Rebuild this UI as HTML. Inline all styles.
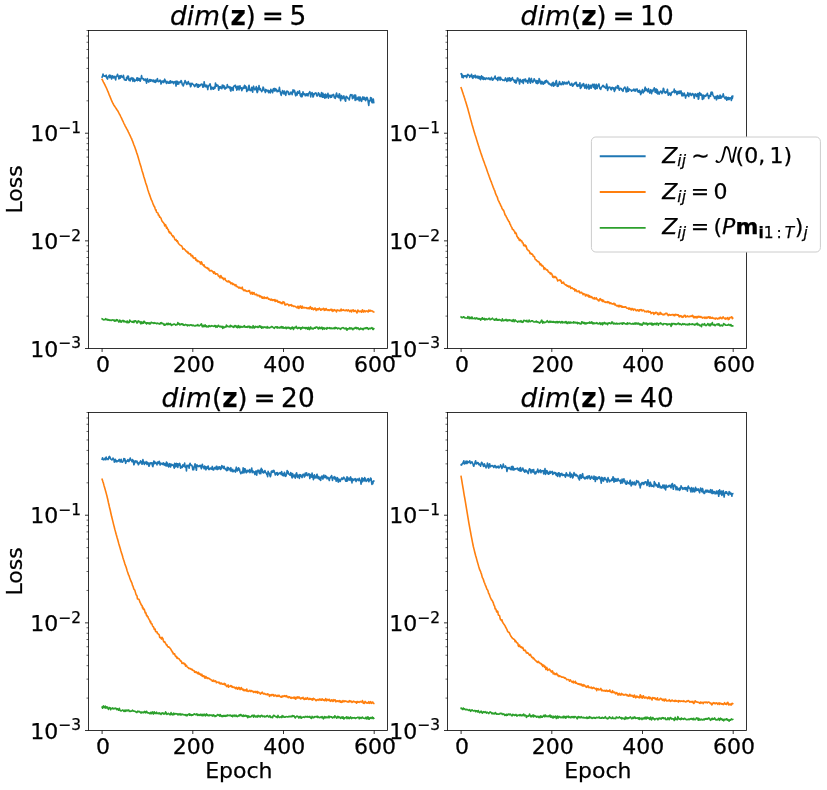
<!DOCTYPE html>
<html lang="en"><head><meta charset="utf-8"><title>Loss curves</title><style>html,body{margin:0;padding:0;background:#fff;overflow:hidden}svg{display:block}text{fill:#000;white-space:pre;stroke:#000;stroke-width:0.25px}</style></head><body>
<svg width="827" height="790" viewBox="0 0 827 790">
<rect x="0" y="0" width="827" height="790" fill="#ffffff"/>
<g id="axTL">
<path d="M102.1 77.19 L102.55 76.19 L103.01 74.05 L103.46 75.66 L103.91 75.95 L104.37 76.21 L104.82 75.74 L105.27 76.32 L105.73 75.77 L106.18 75.1 L106.63 77.71 L107.09 78.31 L107.54 79.07 L108 77.12 L108.45 76.25 L108.9 75.85 L109.36 75.08 L109.81 77.7 L110.26 75.6 L110.72 75.32 L111.17 76.88 L111.62 78.99 L112.08 77.55 L112.53 75.83 L112.98 76.27 L113.44 77.9 L113.89 77.09 L114.34 76.32 L114.8 77.11 L115.25 78.7 L115.7 79.87 L116.16 76.21 L116.61 76.38 L117.07 76.01 L117.52 74.26 L117.97 75.86 L118.43 76.46 L118.88 78.95 L119.33 77.53 L119.79 75.88 L120.24 78.31 L120.69 77.25 L121.15 75.56 L121.6 76.79 L122.05 77 L122.51 76.85 L122.96 77.55 L123.41 75.24 L123.87 77.61 L124.32 79.62 L124.77 79.75 L125.23 80.09 L125.68 80.26 L126.14 80.28 L126.59 77.44 L127.04 78.97 L127.5 76.17 L127.95 77.04 L128.4 76.21 L128.86 79.84 L129.31 80.53 L129.76 79.04 L130.22 80.84 L130.67 78.28 L131.12 78.9 L131.58 78.87 L132.03 77.64 L132.48 79.66 L132.94 81.35 L133.39 78.24 L133.84 79.98 L134.3 79.4 L134.75 81.47 L135.21 80.26 L135.66 80.29 L136.11 80.25 L136.57 79.46 L137.02 77.83 L137.47 80.62 L137.93 77.94 L138.38 79.6 L138.83 80.16 L139.29 78.58 L139.74 79.81 L140.19 81.14 L140.65 79.66 L141.1 77.94 L141.55 75.55 L142.01 77.8 L142.46 78.73 L142.91 78.85 L143.37 78.59 L143.82 80.1 L144.28 79.25 L144.73 79.87 L145.18 80.73 L145.64 79.02 L146.09 79.97 L146.54 83.09 L147 81.5 L147.45 78.68 L147.9 80.01 L148.36 81.27 L148.81 82.1 L149.26 80.71 L149.72 79.61 L150.17 79.52 L150.62 81.27 L151.08 80.98 L151.53 79.92 L151.99 80.18 L152.44 80.21 L152.89 81.43 L153.35 80.06 L153.8 81.45 L154.25 82.13 L154.71 81.5 L155.16 80.15 L155.61 82.41 L156.07 80.42 L156.52 81.29 L156.97 79.78 L157.43 78.66 L157.88 81.14 L158.33 81.58 L158.79 81.21 L159.24 81.47 L159.69 80.33 L160.15 80.17 L160.6 81.37 L161.06 84.08 L161.51 82.81 L161.96 81.06 L162.42 82.07 L162.87 80.94 L163.32 81.06 L163.78 82.59 L164.23 80.81 L164.68 79.18 L165.14 80.22 L165.59 81.75 L166.04 82.27 L166.5 83.42 L166.95 81.34 L167.4 82.88 L167.86 82.68 L168.31 82.08 L168.76 83.26 L169.22 82.77 L169.67 81.3 L170.12 83.21 L170.58 80.8 L171.03 82.1 L171.49 82.4 L171.94 82.77 L172.39 81.48 L172.85 82.2 L173.3 82.46 L173.75 83.66 L174.21 81.67 L174.66 82.46 L175.11 82.01 L175.57 81.38 L176.02 86.06 L176.47 82.88 L176.93 81.02 L177.38 84.21 L177.83 81.75 L178.29 83.36 L178.74 84.05 L179.19 82.17 L179.65 82.17 L180.1 82.19 L180.56 82.47 L181.01 80.62 L181.46 81.11 L181.92 82.97 L182.37 84.77 L182.82 84.72 L183.28 85.98 L183.73 84.57 L184.18 82.82 L184.64 82.75 L185.09 80.46 L185.54 81.56 L186 82.01 L186.45 83.89 L186.9 84.47 L187.36 82.91 L187.81 82.46 L188.26 81.46 L188.72 83.35 L189.17 84.24 L189.63 84.38 L190.08 83.33 L190.53 86.8 L190.99 86.04 L191.44 84.04 L191.89 83.25 L192.35 83.58 L192.8 84.29 L193.25 84.29 L193.71 85.06 L194.16 85.72 L194.61 86.61 L195.07 86.21 L195.52 84.55 L195.97 84.86 L196.43 83.88 L196.88 84 L197.33 86.99 L197.79 84.75 L198.24 87.24 L198.7 84.64 L199.15 85.21 L199.6 86.32 L200.06 85.12 L200.51 85.32 L200.96 84.5 L201.42 84.14 L201.87 84.46 L202.32 84.36 L202.78 87.14 L203.23 85.52 L203.68 86.92 L204.14 81.7 L204.59 84.74 L205.04 85.94 L205.5 85.18 L205.95 86.91 L206.41 86.4 L206.86 85.2 L207.31 86.56 L207.77 89.58 L208.22 86.5 L208.67 85.9 L209.13 85.03 L209.58 85.42 L210.03 83.79 L210.49 85.64 L210.94 89.4 L211.39 87.94 L211.85 87.17 L212.3 87.95 L212.75 88.92 L213.21 87.61 L213.66 89.27 L214.11 88 L214.57 86.87 L215.02 88.06 L215.47 82.98 L215.93 84.88 L216.38 86.25 L216.84 84.94 L217.29 85.71 L217.74 85.21 L218.2 85.85 L218.65 90.28 L219.1 87.9 L219.56 86.8 L220.01 88.33 L220.46 86.67 L220.92 87.88 L221.37 87.67 L221.82 88.77 L222.28 85.16 L222.73 87.56 L223.18 86.87 L223.64 85.4 L224.09 87.95 L224.55 86.21 L225 89.2 L225.45 88.22 L225.91 88.15 L226.36 87.51 L226.81 88.01 L227.27 84.63 L227.72 86.73 L228.17 86.37 L228.63 87.51 L229.08 87.41 L229.53 88.03 L229.99 86.68 L230.44 90.41 L230.89 91.18 L231.35 87.68 L231.8 87.52 L232.25 88.25 L232.71 89.93 L233.16 90.43 L233.62 86.19 L234.07 86.32 L234.52 85.82 L234.98 85.57 L235.43 85.26 L235.88 87.79 L236.34 86.62 L236.79 90.11 L237.24 89.43 L237.7 86.49 L238.15 86.19 L238.6 87.29 L239.06 89.89 L239.51 86.91 L239.96 85.82 L240.42 87.94 L240.87 88.7 L241.32 87.81 L241.78 90.69 L242.23 89.24 L242.69 89 L243.14 87.33 L243.59 88.26 L244.05 87.83 L244.5 85.28 L244.95 88.18 L245.41 86.09 L245.86 87.97 L246.31 87.03 L246.77 91.56 L247.22 89.98 L247.67 90.45 L248.13 90.2 L248.58 86.69 L249.03 85.24 L249.49 88.25 L249.94 90.38 L250.39 89.64 L250.85 90.57 L251.3 90.45 L251.75 87.29 L252.21 89.82 L252.66 92.21 L253.12 88.5 L253.57 86.18 L254.02 88.53 L254.48 88.83 L254.93 89.84 L255.38 88.33 L255.84 89.03 L256.29 86.52 L256.74 90.82 L257.2 92.59 L257.65 91.73 L258.1 87.88 L258.56 89.3 L259.01 85.51 L259.46 89.65 L259.92 89.69 L260.37 88.55 L260.82 90.36 L261.28 90.57 L261.73 91.59 L262.19 90.61 L262.64 90.13 L263.09 87.07 L263.55 87.96 L264 89.39 L264.45 90.69 L264.91 90.78 L265.36 92.51 L265.81 89.43 L266.27 90 L266.72 90.82 L267.17 90.4 L267.63 91.19 L268.08 90.23 L268.53 92.66 L268.99 90.83 L269.44 92.4 L269.89 91.37 L270.35 92.81 L270.8 89.22 L271.26 91.3 L271.71 90.48 L272.16 91.54 L272.62 92.67 L273.07 89.31 L273.52 88.61 L273.98 89.39 L274.43 90.93 L274.88 88.43 L275.34 90.7 L275.79 89.11 L276.24 89.22 L276.7 90.66 L277.15 91.8 L277.6 90.49 L278.06 90.61 L278.51 91.32 L278.97 90.55 L279.42 87.34 L279.87 90.41 L280.33 92 L280.78 93.95 L281.23 95.37 L281.69 93.36 L282.14 91.93 L282.59 90.46 L283.05 92.05 L283.5 93.52 L283.95 93.97 L284.41 91.05 L284.86 92.46 L285.31 93.91 L285.77 95.33 L286.22 92.93 L286.67 91.32 L287.13 91.02 L287.58 91.47 L288.03 91.48 L288.49 93.81 L288.94 94.5 L289.4 94.17 L289.85 94.47 L290.3 92.24 L290.76 93.02 L291.21 92.16 L291.66 92.96 L292.12 94.66 L292.57 92.58 L293.02 89.82 L293.48 91.85 L293.93 91.36 L294.38 90.21 L294.84 91.6 L295.29 94.73 L295.74 95.81 L296.2 92.96 L296.65 94.87 L297.11 94.99 L297.56 91.65 L298.01 92.9 L298.47 93.25 L298.92 93.21 L299.37 90.81 L299.83 92.73 L300.28 95.33 L300.73 96.17 L301.19 96.64 L301.64 93.91 L302.09 96.64 L302.55 94.82 L303 91.86 L303.45 94.52 L303.91 93.5 L304.36 94.51 L304.81 94.09 L305.27 95.83 L305.72 94.54 L306.18 93.8 L306.63 95.52 L307.08 94.57 L307.54 93.78 L307.99 95.95 L308.44 93.65 L308.9 92.95 L309.35 92.86 L309.8 91.66 L310.26 93.52 L310.71 96.97 L311.16 93.38 L311.62 93.95 L312.07 92.54 L312.52 93.62 L312.98 97.05 L313.43 96.24 L313.88 93.86 L314.34 94.32 L314.79 93.18 L315.25 93.06 L315.7 92.9 L316.15 93.23 L316.61 95.31 L317.06 96.05 L317.51 95.83 L317.97 94.49 L318.42 92.77 L318.87 94.39 L319.33 93.8 L319.78 96.47 L320.23 96.47 L320.69 96.47 L321.14 94.43 L321.59 92.5 L322.05 96.74 L322.5 97.23 L322.95 93.33 L323.41 95.6 L323.86 97.19 L324.31 94.5 L324.77 98.09 L325.22 95.2 L325.68 94.14 L326.13 97.72 L326.58 96.37 L327.04 94.98 L327.49 96.59 L327.94 93.31 L328.4 98.16 L328.85 95.1 L329.3 96.12 L329.76 95.52 L330.21 96.87 L330.66 97.43 L331.12 95.18 L331.57 97.16 L332.02 95.73 L332.48 94.98 L332.93 95.49 L333.38 94.41 L333.84 95.03 L334.29 97.71 L334.75 96.69 L335.2 98.41 L335.65 97.24 L336.11 94.49 L336.56 93.04 L337.01 95.09 L337.47 96.93 L337.92 96.58 L338.37 95.62 L338.83 97.81 L339.28 93.88 L339.73 94.38 L340.19 97.34 L340.64 100.7 L341.09 97.95 L341.55 95.6 L342 97.95 L342.46 98.6 L342.91 98.75 L343.36 96.53 L343.82 95.81 L344.27 97.35 L344.72 98.41 L345.18 100.61 L345.63 101.06 L346.08 96.58 L346.54 96.38 L346.99 97.19 L347.44 97.21 L347.9 98.43 L348.35 98.6 L348.8 98.53 L349.26 99.95 L349.71 97.53 L350.16 95.58 L350.62 94.67 L351.07 95.47 L351.52 95.4 L351.98 94.67 L352.43 98.64 L352.89 98.37 L353.34 97.15 L353.79 96.08 L354.25 95.01 L354.7 96.68 L355.15 100.5 L355.61 95.02 L356.06 98.14 L356.51 99.63 L356.97 98.68 L357.42 98.08 L357.87 99.36 L358.33 96.94 L358.78 99.52 L359.23 100.83 L359.69 96.98 L360.14 97.01 L360.6 98.93 L361.05 100.75 L361.5 101.43 L361.96 100.1 L362.41 97.58 L362.86 96.86 L363.32 99.13 L363.77 99.39 L364.22 97.23 L364.68 98.92 L365.13 99.9 L365.58 100.7 L366.04 97.86 L366.49 99.57 L366.94 97.26 L367.4 98.21 L367.85 99.44 L368.3 102.74 L368.76 105.46 L369.21 100.81 L369.66 100.61 L370.12 100.98 L370.57 97.66 L371.03 100.2 L371.48 98.1 L371.93 102.48 L372.39 102.69 L372.84 100.74 L373.29 98.94 L373.75 102.51" fill="none" stroke="#1f77b4" stroke-width="1.6" stroke-linejoin="round" stroke-linecap="square"/>
<path d="M102.1 79.43 L102.55 80.1 L103.01 81.14 L103.46 82.09 L103.91 82.92 L104.37 83.78 L104.82 84.61 L105.27 85.67 L105.73 86.58 L106.18 87.51 L106.63 88.44 L107.09 89.55 L107.54 90.6 L108 91.59 L108.45 92.74 L108.9 93.93 L109.36 95.1 L109.81 96.13 L110.26 97.24 L110.72 98.37 L111.17 99.55 L111.62 100.69 L112.08 101.73 L112.53 102.58 L112.98 103.49 L113.44 104.24 L113.89 105.19 L114.34 105.8 L114.8 106.52 L115.25 107.11 L115.7 107.8 L116.16 108.46 L116.61 109.34 L117.07 109.93 L117.52 110.56 L117.97 111.23 L118.43 112.05 L118.88 113 L119.33 113.94 L119.79 114.56 L120.24 115.49 L120.69 116.5 L121.15 117.4 L121.6 118.28 L122.05 119.39 L122.51 120.41 L122.96 121.17 L123.41 122.26 L123.87 123.28 L124.32 124.18 L124.77 124.98 L125.23 126.08 L125.68 126.82 L126.14 127.56 L126.59 128.55 L127.04 129.28 L127.5 130.29 L127.95 131.03 L128.4 132.07 L128.86 132.91 L129.31 133.98 L129.76 134.9 L130.22 135.82 L130.67 136.77 L131.12 137.83 L131.58 138.64 L132.03 139.87 L132.48 141 L132.94 142.15 L133.39 143.38 L133.84 144.8 L134.3 145.74 L134.75 147.01 L135.21 148.27 L135.66 149.67 L136.11 150.76 L136.57 152.42 L137.02 153.63 L137.47 154.9 L137.93 156.47 L138.38 158.06 L138.83 159.6 L139.29 161.11 L139.74 162.71 L140.19 164.18 L140.65 165.69 L141.1 167.08 L141.55 168.87 L142.01 170.5 L142.46 171.91 L142.91 173.31 L143.37 174.93 L143.82 176.73 L144.28 178.08 L144.73 179.54 L145.18 181.04 L145.64 182.7 L146.09 183.99 L146.54 185.32 L147 186.63 L147.45 188.34 L147.9 190.01 L148.36 191.17 L148.81 192.72 L149.26 193.89 L149.72 195.14 L150.17 196.41 L150.62 197.66 L151.08 199.2 L151.53 200.2 L151.99 200.96 L152.44 202.3 L152.89 203.4 L153.35 204.7 L153.8 205.68 L154.25 206.67 L154.71 206.93 L155.16 208.71 L155.61 210.07 L156.07 209.94 L156.52 212.05 L156.97 212.44 L157.43 212.78 L157.88 212.92 L158.33 215.02 L158.79 214.92 L159.24 215.86 L159.69 217.13 L160.15 217.02 L160.6 217.6 L161.06 218.31 L161.51 219.7 L161.96 220.93 L162.42 221.57 L162.87 222.18 L163.32 222.44 L163.78 223.28 L164.23 223.74 L164.68 225.89 L165.14 225.47 L165.59 224.7 L166.04 226 L166.5 228.18 L166.95 227.31 L167.4 228.38 L167.86 229.53 L168.31 229.53 L168.76 231.48 L169.22 232.49 L169.67 231.79 L170.12 233.24 L170.58 232.76 L171.03 233.25 L171.49 234.64 L171.94 235.28 L172.39 235.49 L172.85 236.69 L173.3 236 L173.75 236.72 L174.21 237.38 L174.66 239.08 L175.11 239.83 L175.57 240.1 L176.02 239.51 L176.47 240.79 L176.93 241.46 L177.38 240.77 L177.83 241.73 L178.29 243.25 L178.74 243.89 L179.19 244.13 L179.65 244.74 L180.1 245.1 L180.56 245.43 L181.01 245.65 L181.46 245.68 L181.92 246.46 L182.37 247.14 L182.82 249.12 L183.28 248.51 L183.73 248.57 L184.18 248.86 L184.64 249.35 L185.09 249.78 L185.54 250.67 L186 250.89 L186.45 251.66 L186.9 251.31 L187.36 252.3 L187.81 252.97 L188.26 252.27 L188.72 253.33 L189.17 253.87 L189.63 253.9 L190.08 254.02 L190.53 253.82 L190.99 255.8 L191.44 255.12 L191.89 255.3 L192.35 256.63 L192.8 255.88 L193.25 257.75 L193.71 258.08 L194.16 258.44 L194.61 258.24 L195.07 257.81 L195.52 257.97 L195.97 260.22 L196.43 259.67 L196.88 260.03 L197.33 261.51 L197.79 260.7 L198.24 261.09 L198.7 261.5 L199.15 261.83 L199.6 261.66 L200.06 262.4 L200.51 263.92 L200.96 263.75 L201.42 261.77 L201.87 262.62 L202.32 264.47 L202.78 264.72 L203.23 264.98 L203.68 265.92 L204.14 264.87 L204.59 266.73 L205.04 266.7 L205.5 267.17 L205.95 267.4 L206.41 267.97 L206.86 267.62 L207.31 267.78 L207.77 268.85 L208.22 268.77 L208.67 268.37 L209.13 270.19 L209.58 270.68 L210.03 270.99 L210.49 270.48 L210.94 270.76 L211.39 270.57 L211.85 270.53 L212.3 271.45 L212.75 271.84 L213.21 271.85 L213.66 273.33 L214.11 271.75 L214.57 272.24 L215.02 272.89 L215.47 274.29 L215.93 273.78 L216.38 273.83 L216.84 273.77 L217.29 274.03 L217.74 274.21 L218.2 275.88 L218.65 276.16 L219.1 276.49 L219.56 276.07 L220.01 277.88 L220.46 276.14 L220.92 275.57 L221.37 276.9 L221.82 277.68 L222.28 278.22 L222.73 277.58 L223.18 278.82 L223.64 279.71 L224.09 278.47 L224.55 278.47 L225 278.32 L225.45 279.79 L225.91 280.63 L226.36 280.9 L226.81 281.25 L227.27 281.76 L227.72 281.34 L228.17 281.82 L228.63 280.96 L229.08 281.23 L229.53 282.06 L229.99 281.87 L230.44 282.98 L230.89 283.78 L231.35 283.38 L231.8 282.81 L232.25 283.14 L232.71 284.52 L233.16 283.68 L233.62 284.24 L234.07 284.38 L234.52 284.88 L234.98 285.66 L235.43 284.88 L235.88 284.68 L236.34 286.53 L236.79 286.31 L237.24 286.67 L237.7 286.55 L238.15 287.27 L238.6 287.89 L239.06 288.07 L239.51 287.26 L239.96 287.35 L240.42 288.02 L240.87 288.23 L241.32 288.54 L241.78 287.83 L242.23 287.16 L242.69 289.02 L243.14 289.7 L243.59 289.95 L244.05 290.72 L244.5 290.4 L244.95 289.87 L245.41 290.73 L245.86 290.52 L246.31 291.38 L246.77 291.08 L247.22 291.3 L247.67 291.36 L248.13 291.28 L248.58 290.63 L249.03 291.44 L249.49 290.57 L249.94 292.35 L250.39 293.22 L250.85 293.98 L251.3 293.1 L251.75 292.35 L252.21 292.22 L252.66 294.25 L253.12 292.85 L253.57 293.88 L254.02 292.46 L254.48 293.84 L254.93 294.67 L255.38 294.66 L255.84 294.49 L256.29 294.12 L256.74 294.35 L257.2 295.68 L257.65 295.61 L258.1 295.38 L258.56 295.61 L259.01 295.28 L259.46 296.59 L259.92 296.9 L260.37 295.86 L260.82 296.47 L261.28 297.15 L261.73 296.57 L262.19 298.21 L262.64 298.11 L263.09 297.19 L263.55 298.03 L264 298.45 L264.45 296.98 L264.91 297.96 L265.36 297.78 L265.81 297.89 L266.27 298.49 L266.72 297.87 L267.17 297.3 L267.63 297.46 L268.08 298.55 L268.53 299.16 L268.99 298.93 L269.44 298.93 L269.89 299.25 L270.35 300.16 L270.8 299.81 L271.26 299.1 L271.71 299.55 L272.16 300.51 L272.62 299.67 L273.07 299.79 L273.52 300.08 L273.98 299.78 L274.43 300.78 L274.88 299.49 L275.34 301.47 L275.79 300.68 L276.24 300.27 L276.7 301.12 L277.15 300.36 L277.6 301.77 L278.06 302.15 L278.51 301.48 L278.97 301.75 L279.42 302.61 L279.87 301.91 L280.33 302.38 L280.78 302.91 L281.23 303.65 L281.69 302.65 L282.14 303.04 L282.59 303.57 L283.05 301.68 L283.5 302.76 L283.95 302.08 L284.41 302.46 L284.86 304.84 L285.31 304.34 L285.77 304.94 L286.22 304.16 L286.67 304.52 L287.13 304.09 L287.58 304.09 L288.03 304.51 L288.49 304.93 L288.94 305.8 L289.4 305 L289.85 305.25 L290.3 305.05 L290.76 305.21 L291.21 304.66 L291.66 306 L292.12 305.36 L292.57 305.64 L293.02 305.75 L293.48 306.54 L293.93 306.41 L294.38 306.15 L294.84 306.32 L295.29 306.57 L295.74 306.92 L296.2 306.96 L296.65 307.55 L297.11 307.83 L297.56 307.12 L298.01 306.17 L298.47 308.06 L298.92 308.45 L299.37 306.96 L299.83 306.61 L300.28 305.91 L300.73 307.46 L301.19 306.93 L301.64 308.23 L302.09 306.07 L302.55 307.41 L303 308 L303.45 307.41 L303.91 307.22 L304.36 307.84 L304.81 307.52 L305.27 307.66 L305.72 307.88 L306.18 307.67 L306.63 307.99 L307.08 308.61 L307.54 308.07 L307.99 308.28 L308.44 307.96 L308.9 308.78 L309.35 307.8 L309.8 308.69 L310.26 306.63 L310.71 307.58 L311.16 307.64 L311.62 309.21 L312.07 308.88 L312.52 307.92 L312.98 308.46 L313.43 309.66 L313.88 309.05 L314.34 309.15 L314.79 307.93 L315.25 307.97 L315.7 309.5 L316.15 310.56 L316.61 309.06 L317.06 309.4 L317.51 308.77 L317.97 309.89 L318.42 309.05 L318.87 308.8 L319.33 308.04 L319.78 308.93 L320.23 309.6 L320.69 310.2 L321.14 308.93 L321.59 309.96 L322.05 309.36 L322.5 309.23 L322.95 308.77 L323.41 308.31 L323.86 308.84 L324.31 310.45 L324.77 309.03 L325.22 309.41 L325.68 310.18 L326.13 308.55 L326.58 309.81 L327.04 309.53 L327.49 309.98 L327.94 310.4 L328.4 309.84 L328.85 309.83 L329.3 310.43 L329.76 310.35 L330.21 309.56 L330.66 309.68 L331.12 309.27 L331.57 310.62 L332.02 309.44 L332.48 310.26 L332.93 311.32 L333.38 310.79 L333.84 309.98 L334.29 309.63 L334.75 309.83 L335.2 310.79 L335.65 310.56 L336.11 310.56 L336.56 311.88 L337.01 310 L337.47 309.92 L337.92 310.1 L338.37 310.52 L338.83 310.6 L339.28 310.36 L339.73 310.94 L340.19 310.85 L340.64 310.11 L341.09 308.99 L341.55 310.7 L342 309.95 L342.46 310.03 L342.91 310.3 L343.36 309.7 L343.82 309.97 L344.27 310.54 L344.72 310.44 L345.18 310.72 L345.63 310.11 L346.08 310.33 L346.54 309.96 L346.99 310.44 L347.44 310.84 L347.9 310.46 L348.35 309.79 L348.8 310.52 L349.26 310.96 L349.71 311.53 L350.16 310.85 L350.62 310.45 L351.07 310.25 L351.52 311.92 L351.98 310.35 L352.43 310.07 L352.89 310.53 L353.34 309.85 L353.79 311.46 L354.25 311.21 L354.7 311.2 L355.15 310.35 L355.61 310.65 L356.06 311.58 L356.51 311.94 L356.97 313.02 L357.42 311.83 L357.87 309.96 L358.33 310.91 L358.78 310.96 L359.23 311.74 L359.69 311.2 L360.14 311.39 L360.6 311.03 L361.05 311.63 L361.5 312.08 L361.96 310.71 L362.41 309.72 L362.86 310.48 L363.32 312.1 L363.77 311.46 L364.22 310.95 L364.68 310.68 L365.13 311.83 L365.58 311.51 L366.04 311.15 L366.49 310.88 L366.94 311.08 L367.4 311.1 L367.85 311.73 L368.3 311.96 L368.76 310.03 L369.21 310.18 L369.66 311.11 L370.12 311.2 L370.57 310.27 L371.03 310.74 L371.48 310.96 L371.93 310.96 L372.39 310.98 L372.84 311.32 L373.29 311.96 L373.75 311.95" fill="none" stroke="#ff7f0e" stroke-width="1.6" stroke-linejoin="round" stroke-linecap="square"/>
<path d="M102.1 318.72 L102.55 318.92 L103.01 319.63 L103.46 319.51 L103.91 319.86 L104.37 319.64 L104.82 319.56 L105.27 319.64 L105.73 318.68 L106.18 319.32 L106.63 319.37 L107.09 320.09 L107.54 319.45 L108 319.84 L108.45 319.65 L108.9 320.19 L109.36 320.38 L109.81 319.93 L110.26 320.09 L110.72 320.26 L111.17 320.56 L111.62 320.04 L112.08 320.17 L112.53 319.92 L112.98 319.71 L113.44 320.4 L113.89 320.58 L114.34 320.13 L114.8 321.26 L115.25 320.28 L115.7 320.96 L116.16 320.74 L116.61 319.67 L117.07 320.38 L117.52 319.79 L117.97 320.62 L118.43 321.36 L118.88 322.06 L119.33 321.38 L119.79 320.07 L120.24 320.76 L120.69 321.87 L121.15 321.44 L121.6 322.07 L122.05 320.8 L122.51 320.65 L122.96 320.32 L123.41 321 L123.87 321.89 L124.32 320.95 L124.77 321.79 L125.23 321.79 L125.68 321.9 L126.14 321.37 L126.59 321.66 L127.04 322.67 L127.5 321.07 L127.95 322.06 L128.4 322.62 L128.86 322.2 L129.31 322.44 L129.76 320.09 L130.22 321.2 L130.67 321.03 L131.12 321.45 L131.58 321.78 L132.03 322.07 L132.48 321.52 L132.94 322.23 L133.39 321.2 L133.84 322.39 L134.3 321.8 L134.75 320.83 L135.21 320.72 L135.66 320.8 L136.11 321.4 L136.57 322.26 L137.02 323.04 L137.47 322.67 L137.93 321.32 L138.38 320.77 L138.83 321.79 L139.29 321.44 L139.74 322.06 L140.19 322.18 L140.65 323.7 L141.1 321.67 L141.55 322.65 L142.01 323.56 L142.46 322.36 L142.91 322.18 L143.37 323.29 L143.82 321.33 L144.28 321.3 L144.73 321.8 L145.18 322.85 L145.64 323.17 L146.09 322.9 L146.54 324 L147 322.84 L147.45 322.75 L147.9 322.75 L148.36 323.55 L148.81 322.96 L149.26 322.82 L149.72 324.01 L150.17 323.96 L150.62 323.59 L151.08 322.27 L151.53 322.28 L151.99 322.81 L152.44 322.89 L152.89 322.83 L153.35 323.04 L153.8 323.46 L154.25 322.69 L154.71 323.26 L155.16 323.01 L155.61 322.95 L156.07 323.17 L156.52 323.78 L156.97 323.53 L157.43 322.99 L157.88 323.56 L158.33 323.6 L158.79 323.72 L159.24 323.48 L159.69 324.14 L160.15 323.78 L160.6 322.84 L161.06 322.64 L161.51 322.74 L161.96 323.73 L162.42 323.3 L162.87 323.46 L163.32 323.79 L163.78 324.69 L164.23 325.2 L164.68 324.14 L165.14 325.08 L165.59 324.5 L166.04 324.65 L166.5 323.77 L166.95 323.25 L167.4 324.28 L167.86 324.68 L168.31 323.23 L168.76 323.91 L169.22 324.27 L169.67 324.39 L170.12 323.51 L170.58 323.83 L171.03 324.85 L171.49 325.37 L171.94 324.55 L172.39 324.87 L172.85 324.52 L173.3 324.55 L173.75 324.13 L174.21 324.15 L174.66 324.04 L175.11 324.52 L175.57 325.12 L176.02 324.73 L176.47 324.83 L176.93 324.26 L177.38 324.62 L177.83 322.64 L178.29 323.43 L178.74 324.12 L179.19 323.58 L179.65 324.84 L180.1 324.77 L180.56 324.19 L181.01 324.56 L181.46 323.78 L181.92 324.07 L182.37 324.34 L182.82 323.93 L183.28 325.26 L183.73 324.66 L184.18 325.42 L184.64 324.94 L185.09 325.02 L185.54 324.42 L186 324.68 L186.45 324.75 L186.9 325.25 L187.36 325.83 L187.81 324.85 L188.26 324.98 L188.72 325.39 L189.17 325.67 L189.63 325.14 L190.08 324.9 L190.53 324.83 L190.99 325.2 L191.44 325.33 L191.89 324.86 L192.35 325.12 L192.8 325.73 L193.25 325.34 L193.71 325.08 L194.16 325.81 L194.61 325.93 L195.07 325.9 L195.52 325.85 L195.97 325.3 L196.43 325.59 L196.88 325.71 L197.33 325.46 L197.79 324.52 L198.24 325.42 L198.7 325.83 L199.15 325.89 L199.6 325.49 L200.06 325.47 L200.51 324.47 L200.96 324.38 L201.42 323.8 L201.87 325.46 L202.32 326.82 L202.78 326.82 L203.23 325.32 L203.68 326.18 L204.14 326.57 L204.59 325.58 L205.04 324.78 L205.5 326.49 L205.95 325.75 L206.41 325.78 L206.86 326.92 L207.31 326.43 L207.77 326.62 L208.22 326.96 L208.67 325.94 L209.13 325.48 L209.58 326.39 L210.03 326.17 L210.49 326.52 L210.94 326.3 L211.39 325.67 L211.85 326.02 L212.3 325.9 L212.75 325.96 L213.21 326.13 L213.66 326.38 L214.11 326.22 L214.57 325.52 L215.02 326.34 L215.47 325.63 L215.93 327.34 L216.38 325.99 L216.84 326.28 L217.29 327.04 L217.74 326.18 L218.2 325.41 L218.65 325.39 L219.1 326.4 L219.56 326.68 L220.01 326.9 L220.46 326.55 L220.92 326.16 L221.37 326.75 L221.82 327.21 L222.28 326.38 L222.73 328.41 L223.18 326.61 L223.64 327.31 L224.09 327.75 L224.55 327.19 L225 326.8 L225.45 327.06 L225.91 327.11 L226.36 325.11 L226.81 326.52 L227.27 326.27 L227.72 326.1 L228.17 326.57 L228.63 326.72 L229.08 326.82 L229.53 326.37 L229.99 327.01 L230.44 325.38 L230.89 325.74 L231.35 325.81 L231.8 326.52 L232.25 326.38 L232.71 326.82 L233.16 326.33 L233.62 327.39 L234.07 327.15 L234.52 326.27 L234.98 325.52 L235.43 325.69 L235.88 325.78 L236.34 327.35 L236.79 327.14 L237.24 326.2 L237.7 327.69 L238.15 326.52 L238.6 325.48 L239.06 327.3 L239.51 327.62 L239.96 326.8 L240.42 326.35 L240.87 327.38 L241.32 326.6 L241.78 326.79 L242.23 327.11 L242.69 327 L243.14 326.49 L243.59 326.25 L244.05 327 L244.5 325.65 L244.95 326.88 L245.41 327.1 L245.86 327.18 L246.31 326.73 L246.77 327.06 L247.22 327.3 L247.67 326.37 L248.13 326.89 L248.58 327.04 L249.03 326.14 L249.49 326.41 L249.94 327.89 L250.39 327.64 L250.85 326.69 L251.3 327.37 L251.75 327.41 L252.21 327.95 L252.66 327.58 L253.12 325.66 L253.57 326.75 L254.02 327.95 L254.48 328.06 L254.93 326.71 L255.38 326.29 L255.84 327.04 L256.29 326.71 L256.74 326.9 L257.2 326.46 L257.65 327.49 L258.1 327.54 L258.56 327.33 L259.01 326.36 L259.46 325.92 L259.92 326.27 L260.37 327.16 L260.82 326.19 L261.28 327.54 L261.73 328.21 L262.19 326.94 L262.64 327.1 L263.09 327.83 L263.55 327.77 L264 326.91 L264.45 327.07 L264.91 327.26 L265.36 327.14 L265.81 327.59 L266.27 327.61 L266.72 327.9 L267.17 326.48 L267.63 327.89 L268.08 327.86 L268.53 327.32 L268.99 327.62 L269.44 327.95 L269.89 327.56 L270.35 327.24 L270.8 327.42 L271.26 326.85 L271.71 326.45 L272.16 326.67 L272.62 326.86 L273.07 327.5 L273.52 327.9 L273.98 327.75 L274.43 328.28 L274.88 327.44 L275.34 326.98 L275.79 326.88 L276.24 326.83 L276.7 327.33 L277.15 328.12 L277.6 326.79 L278.06 327.69 L278.51 327.62 L278.97 327.97 L279.42 327.39 L279.87 327.88 L280.33 327.38 L280.78 327.72 L281.23 326.53 L281.69 327.77 L282.14 327.94 L282.59 326.82 L283.05 327.88 L283.5 327.13 L283.95 328.13 L284.41 327.81 L284.86 328.11 L285.31 327.86 L285.77 327.16 L286.22 328.62 L286.67 328.48 L287.13 327.29 L287.58 328.03 L288.03 328.02 L288.49 327.32 L288.94 327.22 L289.4 328.42 L289.85 327.76 L290.3 328.48 L290.76 329.06 L291.21 328.21 L291.66 327.46 L292.12 328.24 L292.57 327.07 L293.02 327.48 L293.48 329.46 L293.93 327.72 L294.38 327.95 L294.84 327.32 L295.29 327.78 L295.74 327.81 L296.2 326.36 L296.65 327.4 L297.11 328.38 L297.56 328.58 L298.01 328.18 L298.47 327.51 L298.92 328.11 L299.37 327.69 L299.83 327.53 L300.28 328.16 L300.73 329.3 L301.19 327.81 L301.64 328.61 L302.09 328.18 L302.55 327.15 L303 327.4 L303.45 327.87 L303.91 327.83 L304.36 328.13 L304.81 327.47 L305.27 327.53 L305.72 328.63 L306.18 328.13 L306.63 327.65 L307.08 328.24 L307.54 329.19 L307.99 327.86 L308.44 327.33 L308.9 328.78 L309.35 329.54 L309.8 328.99 L310.26 327.36 L310.71 326.99 L311.16 328.76 L311.62 328.27 L312.07 328.49 L312.52 328.31 L312.98 329.21 L313.43 328.4 L313.88 328.08 L314.34 328.2 L314.79 327.58 L315.25 328.24 L315.7 328.04 L316.15 326.92 L316.61 327.3 L317.06 327.3 L317.51 327.28 L317.97 328.45 L318.42 329.01 L318.87 328.45 L319.33 327.3 L319.78 327.19 L320.23 328.58 L320.69 328.19 L321.14 328.11 L321.59 327.37 L322.05 327.21 L322.5 329.4 L322.95 328.15 L323.41 328.07 L323.86 327.79 L324.31 329.11 L324.77 328.26 L325.22 328.23 L325.68 328.37 L326.13 328.48 L326.58 329.04 L327.04 327.48 L327.49 328.53 L327.94 328.04 L328.4 328.04 L328.85 328.03 L329.3 328.48 L329.76 327.64 L330.21 328.02 L330.66 328.64 L331.12 328.09 L331.57 328.12 L332.02 328.61 L332.48 328.48 L332.93 328.25 L333.38 328.36 L333.84 328 L334.29 328.78 L334.75 327.75 L335.2 327.46 L335.65 328.46 L336.11 327.65 L336.56 327.77 L337.01 328.33 L337.47 328.83 L337.92 328.23 L338.37 328.15 L338.83 328.23 L339.28 328.63 L339.73 328.25 L340.19 328.72 L340.64 329.3 L341.09 328.46 L341.55 328.19 L342 327.87 L342.46 327.88 L342.91 327.63 L343.36 327.72 L343.82 328.12 L344.27 328.73 L344.72 328.82 L345.18 328.36 L345.63 328.58 L346.08 328 L346.54 329.87 L346.99 330.18 L347.44 328.76 L347.9 328.87 L348.35 328.75 L348.8 328.99 L349.26 328.15 L349.71 327.71 L350.16 328.84 L350.62 328.06 L351.07 328.63 L351.52 328.03 L351.98 328.16 L352.43 329.26 L352.89 329.64 L353.34 328.64 L353.79 328.39 L354.25 328.72 L354.7 328.19 L355.15 327.57 L355.61 328.28 L356.06 327.37 L356.51 328.66 L356.97 328.41 L357.42 328.59 L357.87 327.75 L358.33 328.14 L358.78 329.05 L359.23 329.59 L359.69 329.32 L360.14 328.88 L360.6 328.11 L361.05 328.93 L361.5 328.78 L361.96 328.63 L362.41 329.36 L362.86 328.51 L363.32 329.6 L363.77 328.41 L364.22 328.24 L364.68 328.47 L365.13 327.88 L365.58 328.32 L366.04 328.57 L366.49 327.65 L366.94 327.96 L367.4 327.79 L367.85 328.44 L368.3 329.31 L368.76 328.55 L369.21 328.6 L369.66 328.74 L370.12 328.12 L370.57 328.72 L371.03 328.39 L371.48 328.16 L371.93 327.62 L372.39 328.31 L372.84 329.4 L373.29 329.51 L373.75 328.68" fill="none" stroke="#2ca02c" stroke-width="1.6" stroke-linejoin="round" stroke-linecap="square"/>
<path d="M102.1 348.5v3.5M192.8 348.5v3.5M283.5 348.5v3.5M374.2 348.5v3.5M88.5 348.5h-3.5M88.5 240.86h-3.5M88.5 133.22h-3.5" stroke="#000" stroke-width="0.8" fill="none"/>
<path d="M88.5 316.1h-2M88.5 297.14h-2M88.5 283.69h-2M88.5 273.26h-2M88.5 264.74h-2M88.5 257.53h-2M88.5 251.29h-2M88.5 245.79h-2M88.5 208.46h-2M88.5 189.5h-2M88.5 176.05h-2M88.5 165.62h-2M88.5 157.1h-2M88.5 149.89h-2M88.5 143.65h-2M88.5 138.15h-2M88.5 100.82h-2M88.5 81.86h-2M88.5 68.41h-2M88.5 57.98h-2M88.5 49.46h-2M88.5 42.25h-2M88.5 36.01h-2M88.5 30.51h-2" stroke="#000" stroke-width="0.6" fill="none"/>
<rect x="88.5" y="30.5" width="299" height="318" fill="none" stroke="#000" stroke-width="0.8"/>
<text x="102.95" y="371.6" text-anchor="middle" style="font-size:22.0px;font-family:'DejaVu Sans','Liberation Sans',sans-serif">0</text>
<text x="193.65" y="371.6" text-anchor="middle" style="font-size:22.0px;font-family:'DejaVu Sans','Liberation Sans',sans-serif">200</text>
<text x="284.35" y="371.6" text-anchor="middle" style="font-size:22.0px;font-family:'DejaVu Sans','Liberation Sans',sans-serif">400</text>
<text x="375.05" y="371.6" text-anchor="middle" style="font-size:22.0px;font-family:'DejaVu Sans','Liberation Sans',sans-serif">600</text>
<text style="font-family:'DejaVu Sans','Liberation Sans',sans-serif"><tspan x="30.2" y="356.71" style="font-size:22.0px">10</tspan><tspan x="58.4" y="348.29" style="font-size:15.4px">−</tspan><tspan x="71.31" y="348.29" style="font-size:15.4px">3</tspan></text>
<text style="font-family:'DejaVu Sans','Liberation Sans',sans-serif"><tspan x="30.2" y="249.07" style="font-size:22.0px">10</tspan><tspan x="58.4" y="240.65" style="font-size:15.4px">−</tspan><tspan x="71.31" y="240.65" style="font-size:15.4px">2</tspan></text>
<text style="font-family:'DejaVu Sans','Liberation Sans',sans-serif"><tspan x="30.2" y="141.43" style="font-size:22.0px">10</tspan><tspan x="58.4" y="133.01" style="font-size:15.4px">−</tspan><tspan x="71.31" y="133.01" style="font-size:15.4px">1</tspan></text>
<text style="font-size:26.4px;font-family:'DejaVu Sans','Liberation Sans',sans-serif"><tspan x="169.91" y="25.1" style="font-style:oblique">d</tspan><tspan x="186.77" y="25.1" style="font-style:oblique">i</tspan><tspan x="194.31" y="25.1" style="font-style:oblique">m</tspan><tspan x="220.23" y="25.1" style="">(</tspan><tspan x="230.52" y="25.1" style="font-weight:700">z</tspan><tspan x="245.59" y="25.1" style="">)</tspan><tspan x="261.84" y="25.1" style="">=</tspan><tspan x="289.41" y="25.1" style="">5</tspan></text>
<text x="21.9" y="189.5" text-anchor="middle" transform="rotate(-90 21.9 189.5)" style="font-size:22.0px;font-family:'DejaVu Sans','Liberation Sans',sans-serif">Loss</text>
</g>
<g id="axTR">
<path d="M461.1 73.92 L461.55 73.61 L462.01 77.34 L462.46 74.93 L462.91 76.2 L463.37 77.76 L463.82 75.7 L464.27 75.73 L464.73 76.23 L465.18 75.69 L465.64 76.26 L466.09 75.96 L466.54 77.59 L467 76.8 L467.45 74.62 L467.9 74.29 L468.36 75.16 L468.81 75.35 L469.26 75.54 L469.72 77.33 L470.17 75.67 L470.62 75.85 L471.08 76.28 L471.53 74.23 L471.98 76.92 L472.44 77.75 L472.89 78.4 L473.34 75.7 L473.8 76.07 L474.25 76.94 L474.71 76.17 L475.16 75.19 L475.61 77.76 L476.07 76.87 L476.52 77.21 L476.97 75.96 L477.43 78.04 L477.88 76.75 L478.33 76.36 L478.79 78.29 L479.24 78.63 L479.69 76.51 L480.15 78.72 L480.6 79.66 L481.05 77.78 L481.51 75.82 L481.96 78.14 L482.41 78.79 L482.87 76.78 L483.32 79.49 L483.78 77.68 L484.23 77.69 L484.68 79.12 L485.14 78.46 L485.59 79.41 L486.04 78.12 L486.5 78.36 L486.95 78.04 L487.4 78.35 L487.86 78.85 L488.31 78.68 L488.76 77.93 L489.22 79.2 L489.67 78.42 L490.12 79.8 L490.58 79.2 L491.03 78.09 L491.48 77.31 L491.94 78.48 L492.39 80.17 L492.85 79.07 L493.3 79.68 L493.75 78.46 L494.21 77.93 L494.66 77.18 L495.11 75.97 L495.57 78.63 L496.02 78.72 L496.47 78.75 L496.93 79.51 L497.38 77.94 L497.83 80.49 L498.29 77.28 L498.74 78.65 L499.19 77.32 L499.65 78.55 L500.1 80.11 L500.55 77.3 L501.01 78.98 L501.46 79.26 L501.92 79.39 L502.37 79.65 L502.82 80.35 L503.28 80.07 L503.73 79.99 L504.18 80.64 L504.64 80.32 L505.09 79.06 L505.54 77.9 L506 80.14 L506.45 79.47 L506.9 81.46 L507.36 78.87 L507.81 78.08 L508.26 80.69 L508.72 78.57 L509.17 77.78 L509.62 80.67 L510.08 78.31 L510.53 81.03 L510.99 78.89 L511.44 80.23 L511.89 79.89 L512.35 77.55 L512.8 79.48 L513.25 79.45 L513.71 80.21 L514.16 81.1 L514.61 82.24 L515.07 80.11 L515.52 80.41 L515.97 83.19 L516.43 81.78 L516.88 81.13 L517.33 78.15 L517.79 78.07 L518.24 79.33 L518.69 80.16 L519.15 81.62 L519.6 83.99 L520.06 79.32 L520.51 79.89 L520.96 81.41 L521.42 81.35 L521.87 82.17 L522.32 80.37 L522.78 79.9 L523.23 83.49 L523.68 81.59 L524.14 79.26 L524.59 80.17 L525.04 80.47 L525.5 79.09 L525.95 81.76 L526.4 81.31 L526.86 80.46 L527.31 80.47 L527.76 83.2 L528.22 81.23 L528.67 79.71 L529.12 78.08 L529.58 79.54 L530.03 82.32 L530.49 83.25 L530.94 79.67 L531.39 78.39 L531.85 81.05 L532.3 81.58 L532.75 82.52 L533.21 80.77 L533.66 81.19 L534.11 78.85 L534.57 79.47 L535.02 80.59 L535.47 81.11 L535.93 82.64 L536.38 83.28 L536.83 80.48 L537.29 83.72 L537.74 81.13 L538.2 81.44 L538.65 82.94 L539.1 78.66 L539.56 79.4 L540.01 80.67 L540.46 82.29 L540.92 83.89 L541.37 83.75 L541.82 81.37 L542.28 83.04 L542.73 82.2 L543.18 84.26 L543.64 82.54 L544.09 83.62 L544.54 81.43 L545 83.08 L545.45 80.84 L545.9 82.11 L546.36 80.37 L546.81 81.96 L547.26 81.37 L547.72 81.27 L548.17 83.07 L548.63 83.98 L549.08 83.24 L549.53 83.49 L549.99 84.25 L550.44 85.02 L550.89 84.76 L551.35 84.23 L551.8 85.84 L552.25 82.99 L552.71 83.92 L553.16 82.26 L553.61 86.27 L554.07 83.45 L554.52 83.75 L554.97 85.26 L555.43 83.21 L555.88 81.79 L556.34 80.61 L556.79 83.13 L557.24 86.36 L557.7 84.58 L558.15 86.22 L558.6 85.05 L559.06 82.89 L559.51 81.56 L559.96 83.28 L560.42 84.54 L560.87 83.65 L561.32 84.14 L561.78 84.63 L562.23 83.19 L562.68 81.72 L563.14 83.3 L563.59 84.55 L564.04 82.75 L564.5 82.16 L564.95 82.39 L565.4 83.54 L565.86 83.91 L566.31 83.8 L566.77 82.4 L567.22 83.88 L567.67 83.19 L568.13 82.44 L568.58 81.27 L569.03 82.27 L569.49 83.33 L569.94 84.61 L570.39 85.1 L570.85 84.7 L571.3 84.65 L571.75 83.2 L572.21 85.7 L572.66 86.15 L573.11 85.75 L573.57 84.16 L574.02 84.45 L574.48 83.85 L574.93 82.79 L575.38 83.79 L575.84 82.25 L576.29 82.21 L576.74 85.55 L577.2 86.14 L577.65 86.31 L578.1 84.68 L578.56 85.22 L579.01 85.89 L579.46 84.37 L579.92 82.74 L580.37 88.38 L580.82 87.91 L581.28 87.5 L581.73 85.67 L582.18 84.36 L582.64 85.53 L583.09 85.71 L583.55 83.58 L584 84.79 L584.45 86.73 L584.91 88.18 L585.36 86.9 L585.81 85.08 L586.27 84.35 L586.72 88.6 L587.17 86.73 L587.63 87.13 L588.08 85.94 L588.53 84.59 L588.99 89.12 L589.44 87.85 L589.89 87.93 L590.35 85.32 L590.8 86.33 L591.25 88.2 L591.71 85.94 L592.16 84.98 L592.62 84.29 L593.07 84.37 L593.52 87.37 L593.98 86.2 L594.43 84.21 L594.88 88.7 L595.34 89.08 L595.79 88.22 L596.24 84.24 L596.7 86.75 L597.15 88.46 L597.6 85.38 L598.06 85.37 L598.51 85.89 L598.96 83.92 L599.42 87.03 L599.87 88.64 L600.32 88.55 L600.78 89.43 L601.23 87.55 L601.69 87.06 L602.14 86.72 L602.59 85.88 L603.05 85.32 L603.5 85.91 L603.95 86.9 L604.41 86.55 L604.86 87.43 L605.31 87.7 L605.77 88.31 L606.22 86.4 L606.67 84.11 L607.13 86.09 L607.58 90.41 L608.03 89.1 L608.49 87.19 L608.94 87.29 L609.39 87.47 L609.85 87.1 L610.3 88.16 L610.75 89.2 L611.21 89.8 L611.66 87.6 L612.12 87.38 L612.57 87.45 L613.02 88.25 L613.48 89.51 L613.93 87.72 L614.38 91.43 L614.84 89.78 L615.29 89.82 L615.74 87.07 L616.2 87.42 L616.65 87.48 L617.1 87.87 L617.56 85.46 L618.01 88.36 L618.46 86.15 L618.92 88.95 L619.37 90.19 L619.83 88.72 L620.28 88.35 L620.73 88.35 L621.19 88.43 L621.64 89.34 L622.09 90.41 L622.55 90.4 L623 91.37 L623.45 89.33 L623.91 88.15 L624.36 87.95 L624.81 87.02 L625.27 88.14 L625.72 88.61 L626.17 91.94 L626.63 90.9 L627.08 91.74 L627.53 86.93 L627.99 89.66 L628.44 91.16 L628.89 90.11 L629.35 88.93 L629.8 89.74 L630.26 89.83 L630.71 89.93 L631.16 90.34 L631.62 91.29 L632.07 90.4 L632.52 90.31 L632.98 90.05 L633.43 90.43 L633.88 89.08 L634.34 90.63 L634.79 89.86 L635.24 91.16 L635.7 89.39 L636.15 89.89 L636.6 89.67 L637.06 88.87 L637.51 91.73 L637.97 91.13 L638.42 90.77 L638.87 92.21 L639.33 90.19 L639.78 90.6 L640.23 92.75 L640.69 94.57 L641.14 91.64 L641.59 93.16 L642.05 91.1 L642.5 89.6 L642.95 91.6 L643.41 92.83 L643.86 91.49 L644.31 91.34 L644.77 88.76 L645.22 87.17 L645.67 90.42 L646.13 88.73 L646.58 90.32 L647.04 89.93 L647.49 91.22 L647.94 91.93 L648.4 88.51 L648.85 90.31 L649.3 91.04 L649.76 93.09 L650.21 91.27 L650.66 89.68 L651.12 90.43 L651.57 93.61 L652.02 90.23 L652.48 91.15 L652.93 91.41 L653.38 89.36 L653.84 89.31 L654.29 87.86 L654.74 89.67 L655.2 92.3 L655.65 91.52 L656.11 88.93 L656.56 93.04 L657.01 89.62 L657.47 90.19 L657.92 94.07 L658.37 92.79 L658.83 92.08 L659.28 94.09 L659.73 92.13 L660.19 92.25 L660.64 91.05 L661.09 91.58 L661.55 92.08 L662 93.57 L662.45 91.26 L662.91 91.09 L663.36 88.21 L663.81 89.08 L664.27 92.77 L664.72 91.67 L665.18 91.74 L665.63 93.07 L666.08 91.95 L666.54 92.35 L666.99 91.47 L667.44 89.28 L667.9 93.28 L668.35 95.26 L668.8 94.75 L669.26 92.98 L669.71 93.09 L670.16 93.64 L670.62 95.41 L671.07 94.85 L671.52 92.4 L671.98 92.39 L672.43 92.27 L672.88 91.67 L673.34 91.66 L673.79 91.91 L674.25 89.08 L674.7 92.8 L675.15 91.99 L675.61 90.85 L676.06 92.21 L676.51 92.05 L676.97 94.52 L677.42 91.61 L677.87 93.03 L678.33 93.51 L678.78 91.63 L679.23 91.13 L679.69 93.46 L680.14 92.51 L680.59 91.37 L681.05 90.97 L681.5 94.39 L681.95 95.87 L682.41 93.12 L682.86 94.5 L683.32 95.68 L683.77 95.33 L684.22 93.07 L684.68 94.56 L685.13 95.57 L685.58 98.07 L686.04 95.04 L686.49 95.81 L686.94 95.65 L687.4 94.98 L687.85 92.67 L688.3 94.67 L688.76 96.51 L689.21 94 L689.66 94.32 L690.12 93.13 L690.57 94.64 L691.02 95.14 L691.48 95.49 L691.93 93.86 L692.38 93.56 L692.84 93.56 L693.29 94.88 L693.75 95.47 L694.2 98.11 L694.65 94.35 L695.11 95.51 L695.56 93.91 L696.01 94.14 L696.47 96.52 L696.92 95.9 L697.37 95.51 L697.83 93.52 L698.28 99.28 L698.73 98.77 L699.19 94.06 L699.64 92.57 L700.09 93.68 L700.55 95.12 L701 93.8 L701.46 95.27 L701.91 94.92 L702.36 99.5 L702.82 95.5 L703.27 95.05 L703.72 98.59 L704.18 96.45 L704.63 95.55 L705.08 95.57 L705.54 96.33 L705.99 95.04 L706.44 95.56 L706.9 94.46 L707.35 93.29 L707.8 94.91 L708.26 96.33 L708.71 98.46 L709.16 96.49 L709.62 95.39 L710.07 96.16 L710.53 96.38 L710.98 92.36 L711.43 94.25 L711.89 92.02 L712.34 92.54 L712.79 94.46 L713.25 95.77 L713.7 96.26 L714.15 96.76 L714.61 98.54 L715.06 97.45 L715.51 97 L715.97 96.43 L716.42 99.82 L716.87 98.91 L717.33 95.73 L717.78 95.64 L718.23 97.95 L718.69 98.36 L719.14 96.66 L719.6 98.16 L720.05 95.03 L720.5 96.47 L720.96 98.3 L721.41 96.2 L721.86 96.99 L722.32 96.88 L722.77 96.08 L723.22 93.79 L723.68 96.1 L724.13 97.35 L724.58 97.69 L725.04 98.7 L725.49 98.85 L725.94 96.84 L726.4 97.26 L726.85 100.27 L727.3 99.25 L727.76 97.62 L728.21 97.37 L728.66 99.46 L729.12 99.54 L729.57 97.81 L730.03 98.36 L730.48 97.82 L730.93 98.1 L731.39 100.5 L731.84 96.3 L732.29 98.49 L732.75 96.1" fill="none" stroke="#1f77b4" stroke-width="1.6" stroke-linejoin="round" stroke-linecap="square"/>
<path d="M461.1 87.68 L461.55 88.96 L462.01 90.26 L462.46 91.63 L462.91 93.08 L463.37 94.5 L463.82 95.74 L464.27 97.23 L464.73 98.52 L465.18 100.2 L465.64 101.46 L466.09 102.9 L466.54 104.46 L467 105.98 L467.45 107.51 L467.9 109.01 L468.36 110.87 L468.81 112.54 L469.26 114.11 L469.72 115.74 L470.17 117.57 L470.62 119.32 L471.08 120.75 L471.53 122.44 L471.98 124.18 L472.44 125.71 L472.89 127.31 L473.34 128.89 L473.8 130.5 L474.25 132.03 L474.71 133.55 L475.16 135.01 L475.61 136.32 L476.07 137.64 L476.52 139.33 L476.97 140.84 L477.43 142.27 L477.88 143.63 L478.33 145.24 L478.79 146.4 L479.24 147.99 L479.69 149.42 L480.15 150.85 L480.6 152.27 L481.05 153.55 L481.51 154.86 L481.96 156.15 L482.41 157.55 L482.87 158.83 L483.32 160.12 L483.78 161.2 L484.23 162.41 L484.68 163.81 L485.14 165.1 L485.59 166.19 L486.04 167.49 L486.5 168.84 L486.95 170.18 L487.4 171.47 L487.86 172.78 L488.31 173.95 L488.76 175.26 L489.22 176.59 L489.67 177.75 L490.12 179.2 L490.58 180.22 L491.03 181.43 L491.48 182.4 L491.94 183.83 L492.39 185.01 L492.85 186.2 L493.3 187.53 L493.75 188.47 L494.21 189.82 L494.66 190.52 L495.11 192.02 L495.57 193.68 L496.02 194.56 L496.47 195.69 L496.93 196.31 L497.38 197.3 L497.83 199.25 L498.29 200.32 L498.74 201.24 L499.19 202 L499.65 203.33 L500.1 203.82 L500.55 205.17 L501.01 206.1 L501.46 206.52 L501.92 208.33 L502.37 208.89 L502.82 209.9 L503.28 209.76 L503.73 210.7 L504.18 212.1 L504.64 213.62 L505.09 214.91 L505.54 215.41 L506 216.05 L506.45 217.25 L506.9 217.8 L507.36 218.89 L507.81 219.88 L508.26 220.24 L508.72 221.54 L509.17 221.44 L509.62 222.68 L510.08 224.41 L510.53 224.71 L510.99 226.11 L511.44 226.86 L511.89 227.55 L512.35 229.28 L512.8 229.49 L513.25 229.51 L513.71 230.26 L514.16 231.25 L514.61 231.27 L515.07 233.34 L515.52 233.36 L515.97 232.97 L516.43 234.14 L516.88 236.23 L517.33 236.53 L517.79 238.05 L518.24 237.56 L518.69 238.38 L519.15 239.96 L519.6 240.52 L520.06 239.39 L520.51 240.64 L520.96 240.25 L521.42 240.9 L521.87 240.96 L522.32 242.71 L522.78 242.54 L523.23 243.36 L523.68 245.54 L524.14 245.63 L524.59 245.31 L525.04 244.97 L525.5 246.46 L525.95 245.74 L526.4 247.07 L526.86 248.76 L527.31 249.51 L527.76 249.74 L528.22 250.61 L528.67 250.76 L529.12 250.74 L529.58 251.87 L530.03 253.41 L530.49 253.06 L530.94 253.7 L531.39 254.26 L531.85 253.67 L532.3 254.22 L532.75 254.65 L533.21 256.28 L533.66 256.48 L534.11 256.4 L534.57 257.03 L535.02 258.8 L535.47 259.54 L535.93 259.77 L536.38 260.05 L536.83 260.77 L537.29 261.03 L537.74 261.62 L538.2 261.59 L538.65 261.63 L539.1 262.3 L539.56 263.54 L540.01 264.73 L540.46 263.7 L540.92 263.9 L541.37 265.45 L541.82 265.91 L542.28 265.44 L542.73 265.8 L543.18 266.3 L543.64 267.55 L544.09 269.39 L544.54 267.79 L545 268.42 L545.45 268.49 L545.9 269.25 L546.36 269.88 L546.81 270.12 L547.26 269.73 L547.72 270.22 L548.17 271.77 L548.63 271.96 L549.08 272.31 L549.53 272.84 L549.99 272.66 L550.44 273.98 L550.89 273.31 L551.35 273.38 L551.8 273.91 L552.25 275.12 L552.71 277.09 L553.16 276.16 L553.61 276.58 L554.07 277.59 L554.52 276.81 L554.97 276.44 L555.43 277.22 L555.88 277.7 L556.34 277.42 L556.79 278.54 L557.24 279.42 L557.7 280.89 L558.15 280.56 L558.6 280.3 L559.06 280.13 L559.51 280.15 L559.96 279.92 L560.42 280.96 L560.87 280.29 L561.32 281.87 L561.78 283.29 L562.23 282.55 L562.68 283.02 L563.14 282.48 L563.59 282.21 L564.04 283.67 L564.5 283.89 L564.95 284.52 L565.4 284.69 L565.86 285.12 L566.31 284.85 L566.77 285.68 L567.22 286.19 L567.67 285.55 L568.13 285.92 L568.58 287 L569.03 286.97 L569.49 286.61 L569.94 286.09 L570.39 287.16 L570.85 288.45 L571.3 287.68 L571.75 287.84 L572.21 287.74 L572.66 288.42 L573.11 288.83 L573.57 289.17 L574.02 288.81 L574.48 288.97 L574.93 290.97 L575.38 290.21 L575.84 289.69 L576.29 290.32 L576.74 291.07 L577.2 291.66 L577.65 291.4 L578.1 291.24 L578.56 291.75 L579.01 290.91 L579.46 291.43 L579.92 292.95 L580.37 292.7 L580.82 292.6 L581.28 292.38 L581.73 292.34 L582.18 293.36 L582.64 293.73 L583.09 294.72 L583.55 293.56 L584 294.02 L584.45 294.03 L584.91 294.11 L585.36 295.9 L585.81 295.95 L586.27 295.2 L586.72 294.48 L587.17 295.6 L587.63 295.96 L588.08 295.39 L588.53 295.17 L588.99 297.08 L589.44 295.84 L589.89 297.09 L590.35 296.43 L590.8 296.75 L591.25 297.62 L591.71 296.67 L592.16 297.17 L592.62 297.7 L593.07 298.65 L593.52 298.74 L593.98 298.23 L594.43 297.69 L594.88 299.08 L595.34 298.54 L595.79 298.78 L596.24 297.83 L596.7 298.9 L597.15 299.56 L597.6 299.33 L598.06 300.06 L598.51 300.76 L598.96 300.95 L599.42 299.7 L599.87 298.95 L600.32 298.62 L600.78 299.88 L601.23 299.61 L601.69 300.69 L602.14 299.72 L602.59 301.5 L603.05 301.14 L603.5 300.32 L603.95 301.5 L604.41 301.99 L604.86 302.09 L605.31 301.92 L605.77 302.38 L606.22 302.43 L606.67 302.05 L607.13 302.23 L607.58 301.72 L608.03 302.82 L608.49 301.96 L608.94 302.49 L609.39 302.3 L609.85 303.58 L610.3 303.3 L610.75 302.73 L611.21 303.5 L611.66 303.53 L612.12 304.1 L612.57 303.9 L613.02 303.89 L613.48 303.76 L613.93 303.18 L614.38 304.51 L614.84 304.84 L615.29 304.05 L615.74 305 L616.2 305.65 L616.65 305.71 L617.1 306.01 L617.56 305.81 L618.01 305.32 L618.46 306.74 L618.92 305.73 L619.37 305.45 L619.83 306.59 L620.28 305.7 L620.73 306.44 L621.19 305.86 L621.64 307.06 L622.09 307.28 L622.55 306.42 L623 307.03 L623.45 307.26 L623.91 306.95 L624.36 307.3 L624.81 307.04 L625.27 306.73 L625.72 306.7 L626.17 307.61 L626.63 308.03 L627.08 308.32 L627.53 308.27 L627.99 308.39 L628.44 308.07 L628.89 309.15 L629.35 308.02 L629.8 308.8 L630.26 308.47 L630.71 308.64 L631.16 310.05 L631.62 309.28 L632.07 308.35 L632.52 309.17 L632.98 309.12 L633.43 310.34 L633.88 309.07 L634.34 309.41 L634.79 309.21 L635.24 309.34 L635.7 310.27 L636.15 310.75 L636.6 310.82 L637.06 310.03 L637.51 309.81 L637.97 310.46 L638.42 310.25 L638.87 311.18 L639.33 309.78 L639.78 310.57 L640.23 309.79 L640.69 309.8 L641.14 309.55 L641.59 309.91 L642.05 311.02 L642.5 310.46 L642.95 310.18 L643.41 310.14 L643.86 310.42 L644.31 310.94 L644.77 311.78 L645.22 311.43 L645.67 311.37 L646.13 311.46 L646.58 311.88 L647.04 311.12 L647.49 311.68 L647.94 310.98 L648.4 311.1 L648.85 312.16 L649.3 312 L649.76 311.79 L650.21 311.48 L650.66 312.51 L651.12 313.63 L651.57 312.86 L652.02 312.72 L652.48 312.49 L652.93 313.14 L653.38 312.66 L653.84 314.4 L654.29 313.09 L654.74 312.89 L655.2 313.44 L655.65 312.21 L656.11 312.31 L656.56 312.44 L657.01 312.99 L657.47 314.07 L657.92 312.97 L658.37 314.75 L658.83 314.25 L659.28 314.43 L659.73 313.54 L660.19 312.43 L660.64 312.76 L661.09 314.26 L661.55 313.6 L662 313.92 L662.45 314.12 L662.91 314.89 L663.36 314.86 L663.81 314.29 L664.27 314.2 L664.72 314.6 L665.18 313.5 L665.63 313.54 L666.08 313.28 L666.54 313.47 L666.99 313.42 L667.44 314.78 L667.9 314.56 L668.35 315.59 L668.8 314.59 L669.26 314.75 L669.71 314.5 L670.16 315.23 L670.62 315.22 L671.07 314.75 L671.52 315.02 L671.98 314.48 L672.43 314.51 L672.88 314.47 L673.34 315.48 L673.79 314.56 L674.25 314.53 L674.7 315.73 L675.15 315.19 L675.61 314.37 L676.06 314.5 L676.51 314.83 L676.97 314.69 L677.42 315.21 L677.87 314.66 L678.33 314.77 L678.78 316.12 L679.23 316.88 L679.69 316.63 L680.14 315.65 L680.59 316.04 L681.05 315.9 L681.5 316.97 L681.95 316.29 L682.41 316.44 L682.86 317.31 L683.32 316.97 L683.77 316.15 L684.22 315.44 L684.68 315.68 L685.13 315.42 L685.58 317.09 L686.04 316.35 L686.49 316.71 L686.94 316.43 L687.4 315.93 L687.85 316.52 L688.3 316.66 L688.76 316.44 L689.21 316.48 L689.66 316.62 L690.12 315.97 L690.57 316.36 L691.02 316.23 L691.48 316.12 L691.93 316.47 L692.38 315.22 L692.84 315.64 L693.29 316.62 L693.75 317.74 L694.2 317.21 L694.65 316.54 L695.11 317.68 L695.56 317.03 L696.01 316.48 L696.47 316.92 L696.92 317.94 L697.37 317.54 L697.83 316.54 L698.28 316.36 L698.73 317.21 L699.19 316.37 L699.64 316.76 L700.09 317.42 L700.55 316.5 L701 316.61 L701.46 317.24 L701.91 317.2 L702.36 318.04 L702.82 317.47 L703.27 317.75 L703.72 317.76 L704.18 317.15 L704.63 317.98 L705.08 318.3 L705.54 317.42 L705.99 317.1 L706.44 317.43 L706.9 318.38 L707.35 317.64 L707.8 317.18 L708.26 316.81 L708.71 317.39 L709.16 316.94 L709.62 318.08 L710.07 317.21 L710.53 316.99 L710.98 318.3 L711.43 318.15 L711.89 318.07 L712.34 317.41 L712.79 318.3 L713.25 318.19 L713.7 318.15 L714.15 318.62 L714.61 318.71 L715.06 318.21 L715.51 319.04 L715.97 318.52 L716.42 318.13 L716.87 318.5 L717.33 318.47 L717.78 319.13 L718.23 318.45 L718.69 318.11 L719.14 318.26 L719.6 318.57 L720.05 317.22 L720.5 317.27 L720.96 318.02 L721.41 318.59 L721.86 318.69 L722.32 318.03 L722.77 317.13 L723.22 316.86 L723.68 317.98 L724.13 318.08 L724.58 318.58 L725.04 318.91 L725.49 318.05 L725.94 319.11 L726.4 318.25 L726.85 318.28 L727.3 318.34 L727.76 317.51 L728.21 319.7 L728.66 318.59 L729.12 319.07 L729.57 318.02 L730.03 317.35 L730.48 317.59 L730.93 317.53 L731.39 316.99 L731.84 316.84 L732.29 318.66 L732.75 318.16" fill="none" stroke="#ff7f0e" stroke-width="1.6" stroke-linejoin="round" stroke-linecap="square"/>
<path d="M461.1 316.95 L461.55 317.23 L462.01 317.83 L462.46 317.58 L462.91 317.37 L463.37 316.73 L463.82 316.82 L464.27 317.72 L464.73 317.45 L465.18 318.05 L465.64 318.06 L466.09 317.93 L466.54 318.06 L467 317.94 L467.45 318.21 L467.9 316.58 L468.36 317.21 L468.81 318.08 L469.26 318.68 L469.72 317.04 L470.17 317.52 L470.62 318.27 L471.08 318.73 L471.53 317.71 L471.98 316.9 L472.44 318.2 L472.89 318.66 L473.34 318.55 L473.8 318.56 L474.25 318.58 L474.71 317.97 L475.16 318.67 L475.61 318.89 L476.07 318.4 L476.52 317.9 L476.97 318.11 L477.43 318.79 L477.88 318.33 L478.33 319.26 L478.79 318.82 L479.24 318.59 L479.69 319.13 L480.15 318.95 L480.6 320.08 L481.05 319.7 L481.51 318.48 L481.96 318.4 L482.41 317.77 L482.87 319.22 L483.32 319.26 L483.78 318.99 L484.23 318.33 L484.68 319.89 L485.14 319.86 L485.59 318.89 L486.04 318.68 L486.5 318.88 L486.95 319.62 L487.4 319.46 L487.86 319.18 L488.31 318.99 L488.76 318.44 L489.22 318.71 L489.67 318.4 L490.12 319.78 L490.58 319.45 L491.03 319.38 L491.48 319.12 L491.94 318.7 L492.39 318.17 L492.85 318.82 L493.3 319.15 L493.75 319.36 L494.21 320.14 L494.66 320.14 L495.11 319.09 L495.57 319.18 L496.02 320.02 L496.47 318.55 L496.93 319.5 L497.38 320.24 L497.83 319.94 L498.29 319.68 L498.74 320.18 L499.19 319.57 L499.65 319.45 L500.1 320.03 L500.55 320.01 L501.01 320.46 L501.46 320.9 L501.92 320.77 L502.37 318.89 L502.82 320.18 L503.28 320.6 L503.73 320.71 L504.18 320.09 L504.64 320.08 L505.09 320.4 L505.54 319.75 L506 319.37 L506.45 320.68 L506.9 320.73 L507.36 319.88 L507.81 320.87 L508.26 320.08 L508.72 320.51 L509.17 319.8 L509.62 320.35 L510.08 320.08 L510.53 320.24 L510.99 320.79 L511.44 320.91 L511.89 320.27 L512.35 321.36 L512.8 320.18 L513.25 319.69 L513.71 320.57 L514.16 321.76 L514.61 320.53 L515.07 319.9 L515.52 320.32 L515.97 321.01 L516.43 321.24 L516.88 321.27 L517.33 321.72 L517.79 322.19 L518.24 321.23 L518.69 321.24 L519.15 321.09 L519.6 321.36 L520.06 321.82 L520.51 321.31 L520.96 320.64 L521.42 321.69 L521.87 322.12 L522.32 321.59 L522.78 322.39 L523.23 321.85 L523.68 320.43 L524.14 320.75 L524.59 320.52 L525.04 320.8 L525.5 320.76 L525.95 321.4 L526.4 321.53 L526.86 320.32 L527.31 321.62 L527.76 321.45 L528.22 321.92 L528.67 321.13 L529.12 320.08 L529.58 321.2 L530.03 321.69 L530.49 321.72 L530.94 321.38 L531.39 320.8 L531.85 320.82 L532.3 320.89 L532.75 320.88 L533.21 321.53 L533.66 321.87 L534.11 322.12 L534.57 321.88 L535.02 321.64 L535.47 321.98 L535.93 321.62 L536.38 321.17 L536.83 322.12 L537.29 321.75 L537.74 321.78 L538.2 322.48 L538.65 322.23 L539.1 322.37 L539.56 323.08 L540.01 322.72 L540.46 322.43 L540.92 321.8 L541.37 320.49 L541.82 320.19 L542.28 321.31 L542.73 323.12 L543.18 321.96 L543.64 321.67 L544.09 322.29 L544.54 322.66 L545 322.31 L545.45 322.35 L545.9 322.19 L546.36 321.75 L546.81 321.44 L547.26 320.64 L547.72 321.78 L548.17 322.01 L548.63 322.27 L549.08 322.5 L549.53 321.24 L549.99 321.31 L550.44 322.22 L550.89 321.21 L551.35 322.05 L551.8 322.15 L552.25 322.3 L552.71 321.7 L553.16 322.26 L553.61 321.54 L554.07 322.47 L554.52 322.15 L554.97 321.91 L555.43 322.32 L555.88 322.81 L556.34 321.65 L556.79 321.87 L557.24 321.53 L557.7 322.7 L558.15 322.62 L558.6 321.74 L559.06 321.91 L559.51 321.57 L559.96 322.25 L560.42 322.79 L560.87 322.03 L561.32 322.09 L561.78 321.48 L562.23 323.02 L562.68 321.78 L563.14 322.25 L563.59 322.22 L564.04 322.9 L564.5 322.27 L564.95 321.99 L565.4 321.67 L565.86 322.81 L566.31 321.63 L566.77 323.26 L567.22 323.45 L567.67 323.52 L568.13 322.02 L568.58 321.99 L569.03 322.62 L569.49 323.06 L569.94 322.12 L570.39 323.04 L570.85 322.05 L571.3 322.87 L571.75 322.68 L572.21 322.7 L572.66 322.64 L573.11 322.85 L573.57 321.76 L574.02 323.02 L574.48 322.39 L574.93 322.41 L575.38 322.24 L575.84 323.02 L576.29 322.93 L576.74 322.43 L577.2 322.29 L577.65 323.67 L578.1 322.8 L578.56 323.01 L579.01 322.72 L579.46 323.46 L579.92 323.74 L580.37 323.65 L580.82 323.98 L581.28 323.75 L581.73 321.71 L582.18 322.19 L582.64 322.16 L583.09 323.16 L583.55 323 L584 322.37 L584.45 323.74 L584.91 323.29 L585.36 323.82 L585.81 322.79 L586.27 323.49 L586.72 323.73 L587.17 322.91 L587.63 323.14 L588.08 322.98 L588.53 322.81 L588.99 323 L589.44 322 L589.89 323.27 L590.35 323.04 L590.8 322.39 L591.25 323.17 L591.71 321.88 L592.16 322.33 L592.62 323.69 L593.07 323.42 L593.52 322.87 L593.98 323.82 L594.43 323.02 L594.88 322.97 L595.34 323.17 L595.79 323.55 L596.24 323.4 L596.7 322.6 L597.15 322.87 L597.6 323.55 L598.06 323.88 L598.51 323.49 L598.96 323.78 L599.42 323.67 L599.87 322.67 L600.32 323.18 L600.78 324.39 L601.23 323.32 L601.69 323.52 L602.14 322.82 L602.59 324.82 L603.05 323.14 L603.5 323.63 L603.95 323.49 L604.41 322.42 L604.86 323.14 L605.31 323.86 L605.77 323.11 L606.22 323.77 L606.67 323.33 L607.13 324.2 L607.58 324.65 L608.03 322.95 L608.49 323.39 L608.94 322.9 L609.39 322.75 L609.85 323.31 L610.3 323.53 L610.75 323.69 L611.21 323.47 L611.66 322.12 L612.12 322.74 L612.57 322.17 L613.02 323.47 L613.48 323.94 L613.93 323.61 L614.38 323.18 L614.84 323.67 L615.29 323.97 L615.74 323.78 L616.2 323.15 L616.65 323.31 L617.1 324.16 L617.56 323.59 L618.01 323.58 L618.46 323.57 L618.92 323.88 L619.37 323.83 L619.83 323.34 L620.28 323.26 L620.73 323.33 L621.19 323.63 L621.64 323.75 L622.09 322.91 L622.55 324.21 L623 323.08 L623.45 323.42 L623.91 322.89 L624.36 323.16 L624.81 323.52 L625.27 323.89 L625.72 323.83 L626.17 324.05 L626.63 323.62 L627.08 324.34 L627.53 322.85 L627.99 323.64 L628.44 323.78 L628.89 323.39 L629.35 323.49 L629.8 323.18 L630.26 323.76 L630.71 323.51 L631.16 324.08 L631.62 323.97 L632.07 323.94 L632.52 323.7 L632.98 323.26 L633.43 324.09 L633.88 324.19 L634.34 323.49 L634.79 323.01 L635.24 323.34 L635.7 324.13 L636.15 322.91 L636.6 323.77 L637.06 323.64 L637.51 324.02 L637.97 323.03 L638.42 323.81 L638.87 323.26 L639.33 324.13 L639.78 324.77 L640.23 323.96 L640.69 324.85 L641.14 324.05 L641.59 324.42 L642.05 325.27 L642.5 324.63 L642.95 324 L643.41 322.49 L643.86 323.22 L644.31 323.93 L644.77 323.37 L645.22 323.28 L645.67 323.93 L646.13 323 L646.58 323.16 L647.04 324.34 L647.49 325.02 L647.94 323.63 L648.4 323.93 L648.85 324.16 L649.3 323.5 L649.76 323.4 L650.21 323.98 L650.66 323.27 L651.12 323.55 L651.57 324.76 L652.02 323.16 L652.48 325 L652.93 324.87 L653.38 323.83 L653.84 324.58 L654.29 324.1 L654.74 323.41 L655.2 323.51 L655.65 323.65 L656.11 324.71 L656.56 323.33 L657.01 323.12 L657.47 323.6 L657.92 323.77 L658.37 325.13 L658.83 323.83 L659.28 323.48 L659.73 323.43 L660.19 323.31 L660.64 322.79 L661.09 323.8 L661.55 323.56 L662 323.87 L662.45 324.76 L662.91 324.78 L663.36 324.49 L663.81 323.55 L664.27 323.85 L664.72 323.7 L665.18 323.8 L665.63 323.89 L666.08 323.81 L666.54 324.54 L666.99 323.85 L667.44 324.83 L667.9 324.43 L668.35 324.1 L668.8 324.32 L669.26 323.92 L669.71 323.98 L670.16 324.64 L670.62 324.42 L671.07 326.45 L671.52 323.7 L671.98 323.38 L672.43 324.73 L672.88 323.92 L673.34 323.65 L673.79 323.47 L674.25 323.86 L674.7 323.75 L675.15 324.46 L675.61 323.86 L676.06 324.15 L676.51 324.55 L676.97 324.31 L677.42 323.82 L677.87 323.41 L678.33 323.1 L678.78 323.22 L679.23 324.42 L679.69 323.89 L680.14 323.92 L680.59 324.3 L681.05 324.5 L681.5 324.88 L681.95 324.55 L682.41 324.03 L682.86 323.58 L683.32 324.39 L683.77 324.23 L684.22 324.16 L684.68 323.79 L685.13 324.44 L685.58 324.78 L686.04 324.33 L686.49 324.68 L686.94 324.37 L687.4 324.25 L687.85 324.99 L688.3 324.32 L688.76 324.36 L689.21 323.59 L689.66 324.7 L690.12 324.2 L690.57 324.24 L691.02 324.18 L691.48 324.48 L691.93 324 L692.38 323.76 L692.84 324.44 L693.29 324.55 L693.75 324.23 L694.2 324.88 L694.65 325.06 L695.11 324.16 L695.56 324.7 L696.01 324.64 L696.47 323.52 L696.92 323.45 L697.37 323.22 L697.83 325.06 L698.28 324.33 L698.73 324.31 L699.19 324.99 L699.64 325.54 L700.09 325.08 L700.55 325.63 L701 325.77 L701.46 326.76 L701.91 324.32 L702.36 324.18 L702.82 324.16 L703.27 324.82 L703.72 324.24 L704.18 324.82 L704.63 323.67 L705.08 325.07 L705.54 325.13 L705.99 325.6 L706.44 325.16 L706.9 324.81 L707.35 324.69 L707.8 323.48 L708.26 324.33 L708.71 324.87 L709.16 325.71 L709.62 324.73 L710.07 323.94 L710.53 325.73 L710.98 324.31 L711.43 324.54 L711.89 323.79 L712.34 322.62 L712.79 324.8 L713.25 324.54 L713.7 325.05 L714.15 324.45 L714.61 325.15 L715.06 325.76 L715.51 325.21 L715.97 324.66 L716.42 324.42 L716.87 324.58 L717.33 323.98 L717.78 324.75 L718.23 325.02 L718.69 323.85 L719.14 324.06 L719.6 325.73 L720.05 325.1 L720.5 325.9 L720.96 325.35 L721.41 325.28 L721.86 325.13 L722.32 325.95 L722.77 325.76 L723.22 324.75 L723.68 323.61 L724.13 323.92 L724.58 324.58 L725.04 324.31 L725.49 325.14 L725.94 325.19 L726.4 325.23 L726.85 325.26 L727.3 325.06 L727.76 325.14 L728.21 324.94 L728.66 324.26 L729.12 324.77 L729.57 324.95 L730.03 325.4 L730.48 324.67 L730.93 324.52 L731.39 326.01 L731.84 325.64 L732.29 325.79 L732.75 325.97" fill="none" stroke="#2ca02c" stroke-width="1.6" stroke-linejoin="round" stroke-linecap="square"/>
<path d="M461.1 348.5v3.5M551.8 348.5v3.5M642.5 348.5v3.5M733.2 348.5v3.5M447.5 348.5h-3.5M447.5 240.86h-3.5M447.5 133.22h-3.5" stroke="#000" stroke-width="0.8" fill="none"/>
<path d="M447.5 316.1h-2M447.5 297.14h-2M447.5 283.69h-2M447.5 273.26h-2M447.5 264.74h-2M447.5 257.53h-2M447.5 251.29h-2M447.5 245.79h-2M447.5 208.46h-2M447.5 189.5h-2M447.5 176.05h-2M447.5 165.62h-2M447.5 157.1h-2M447.5 149.89h-2M447.5 143.65h-2M447.5 138.15h-2M447.5 100.82h-2M447.5 81.86h-2M447.5 68.41h-2M447.5 57.98h-2M447.5 49.46h-2M447.5 42.25h-2M447.5 36.01h-2M447.5 30.51h-2" stroke="#000" stroke-width="0.6" fill="none"/>
<rect x="447.5" y="30.5" width="299" height="318" fill="none" stroke="#000" stroke-width="0.8"/>
<text x="461.95" y="371.6" text-anchor="middle" style="font-size:22.0px;font-family:'DejaVu Sans','Liberation Sans',sans-serif">0</text>
<text x="552.65" y="371.6" text-anchor="middle" style="font-size:22.0px;font-family:'DejaVu Sans','Liberation Sans',sans-serif">200</text>
<text x="643.35" y="371.6" text-anchor="middle" style="font-size:22.0px;font-family:'DejaVu Sans','Liberation Sans',sans-serif">400</text>
<text x="734.05" y="371.6" text-anchor="middle" style="font-size:22.0px;font-family:'DejaVu Sans','Liberation Sans',sans-serif">600</text>
<text style="font-family:'DejaVu Sans','Liberation Sans',sans-serif"><tspan x="389.2" y="356.71" style="font-size:22.0px">10</tspan><tspan x="417.4" y="348.29" style="font-size:15.4px">−</tspan><tspan x="430.31" y="348.29" style="font-size:15.4px">3</tspan></text>
<text style="font-family:'DejaVu Sans','Liberation Sans',sans-serif"><tspan x="389.2" y="249.07" style="font-size:22.0px">10</tspan><tspan x="417.4" y="240.65" style="font-size:15.4px">−</tspan><tspan x="430.31" y="240.65" style="font-size:15.4px">2</tspan></text>
<text style="font-family:'DejaVu Sans','Liberation Sans',sans-serif"><tspan x="389.2" y="141.43" style="font-size:22.0px">10</tspan><tspan x="417.4" y="133.01" style="font-size:15.4px">−</tspan><tspan x="430.31" y="133.01" style="font-size:15.4px">1</tspan></text>
<text style="font-size:26.4px;font-family:'DejaVu Sans','Liberation Sans',sans-serif"><tspan x="520.59" y="25.1" style="font-style:oblique">d</tspan><tspan x="537.45" y="25.1" style="font-style:oblique">i</tspan><tspan x="544.99" y="25.1" style="font-style:oblique">m</tspan><tspan x="570.91" y="25.1" style="">(</tspan><tspan x="581.21" y="25.1" style="font-weight:700">z</tspan><tspan x="596.27" y="25.1" style="">)</tspan><tspan x="612.53" y="25.1" style="">=</tspan><tspan x="640.09" y="25.1" style="">1</tspan><tspan x="656.89" y="25.1" style="">0</tspan></text>
</g>
<g id="axBL">
<path d="M102.1 459.32 L102.55 457.81 L103.01 459.29 L103.46 459.61 L103.91 459.9 L104.37 458.99 L104.82 458.72 L105.27 458.06 L105.73 459.8 L106.18 457.09 L106.63 458.98 L107.09 458.76 L107.54 458.87 L108 459.67 L108.45 458.82 L108.9 456.95 L109.36 456.39 L109.81 456.81 L110.26 458.26 L110.72 459.08 L111.17 459.25 L111.62 459.79 L112.08 459.99 L112.53 459.1 L112.98 457.97 L113.44 458.98 L113.89 459.42 L114.34 462.21 L114.8 461.45 L115.25 459.2 L115.7 460.08 L116.16 461.82 L116.61 460.95 L117.07 461.7 L117.52 460.9 L117.97 460.9 L118.43 461.18 L118.88 459.71 L119.33 459.44 L119.79 460.2 L120.24 461.96 L120.69 461.01 L121.15 459.34 L121.6 461.88 L122.05 461.76 L122.51 462.14 L122.96 461.4 L123.41 460.62 L123.87 458.46 L124.32 460.58 L124.77 458.71 L125.23 460.74 L125.68 463.33 L126.14 461.76 L126.59 461.51 L127.04 460.61 L127.5 461.2 L127.95 459.58 L128.4 460.74 L128.86 461.54 L129.31 460.84 L129.76 459.41 L130.22 458.03 L130.67 460.02 L131.12 460.16 L131.58 460.66 L132.03 461.67 L132.48 459.47 L132.94 461.93 L133.39 460.44 L133.84 464.8 L134.3 463.9 L134.75 462.6 L135.21 460.83 L135.66 461.88 L136.11 461.96 L136.57 461.01 L137.02 461.29 L137.47 463.27 L137.93 462.76 L138.38 464.77 L138.83 464 L139.29 462.42 L139.74 463 L140.19 462.3 L140.65 460.8 L141.1 462.61 L141.55 461.66 L142.01 464.25 L142.46 463.56 L142.91 459.54 L143.37 461.96 L143.82 461.5 L144.28 464.5 L144.73 462.83 L145.18 463.12 L145.64 463.34 L146.09 461.58 L146.54 463 L147 464.39 L147.45 462.39 L147.9 463.46 L148.36 463.15 L148.81 466.21 L149.26 466.02 L149.72 463.36 L150.17 462.89 L150.62 463.71 L151.08 463.07 L151.53 462.86 L151.99 462.76 L152.44 465.84 L152.89 466.69 L153.35 464.16 L153.8 461.06 L154.25 461.33 L154.71 463.64 L155.16 462.18 L155.61 462.57 L156.07 463.46 L156.52 463.24 L156.97 464.86 L157.43 462.12 L157.88 463.31 L158.33 462.18 L158.79 463.36 L159.24 461.23 L159.69 462.99 L160.15 465.05 L160.6 463.18 L161.06 464.01 L161.51 463.31 L161.96 464.01 L162.42 463.69 L162.87 464.49 L163.32 462.72 L163.78 463.78 L164.23 464.95 L164.68 463.53 L165.14 465.29 L165.59 465.69 L166.04 464.43 L166.5 462 L166.95 466.06 L167.4 463.15 L167.86 464.35 L168.31 465.47 L168.76 466.92 L169.22 464.89 L169.67 463.64 L170.12 465.75 L170.58 466.91 L171.03 463.94 L171.49 465.49 L171.94 465.02 L172.39 465.11 L172.85 464.72 L173.3 465.57 L173.75 466.43 L174.21 468.13 L174.66 463.41 L175.11 467.08 L175.57 465.5 L176.02 463.59 L176.47 463.36 L176.93 466.58 L177.38 463.74 L177.83 467.34 L178.29 464 L178.74 465.56 L179.19 464 L179.65 463.31 L180.1 464.84 L180.56 468.22 L181.01 466.38 L181.46 466.34 L181.92 467.4 L182.37 467.47 L182.82 464.91 L183.28 466.34 L183.73 466.04 L184.18 465 L184.64 463.14 L185.09 467.09 L185.54 467.24 L186 466.32 L186.45 470.86 L186.9 465.19 L187.36 465.66 L187.81 466.42 L188.26 465.25 L188.72 466.42 L189.17 468.24 L189.63 464.8 L190.08 463.22 L190.53 464.93 L190.99 464.87 L191.44 465.41 L191.89 465.39 L192.35 466.77 L192.8 469.8 L193.25 467.56 L193.71 469.61 L194.16 466.82 L194.61 465.4 L195.07 463.77 L195.52 466.65 L195.97 468.06 L196.43 470.23 L196.88 464.7 L197.33 465.35 L197.79 466.11 L198.24 466.45 L198.7 466.57 L199.15 465.7 L199.6 466.42 L200.06 465.34 L200.51 465.43 L200.96 467.45 L201.42 468.71 L201.87 466.04 L202.32 464.29 L202.78 466.05 L203.23 467.12 L203.68 467.44 L204.14 468.82 L204.59 466.05 L205.04 466.62 L205.5 466.8 L205.95 469.83 L206.41 468.28 L206.86 467.01 L207.31 466.51 L207.77 468.41 L208.22 466.13 L208.67 469.26 L209.13 469.61 L209.58 468.93 L210.03 468.22 L210.49 468.14 L210.94 469.04 L211.39 468.04 L211.85 469.05 L212.3 466.43 L212.75 469.66 L213.21 468.51 L213.66 469.97 L214.11 468.88 L214.57 467.52 L215.02 467.84 L215.47 467.54 L215.93 469.08 L216.38 466.2 L216.84 466.23 L217.29 469.58 L217.74 469.03 L218.2 467.33 L218.65 468.93 L219.1 466.86 L219.56 468.18 L220.01 466.9 L220.46 469.46 L220.92 468.88 L221.37 468.68 L221.82 465.56 L222.28 466.41 L222.73 466.3 L223.18 467.86 L223.64 468.41 L224.09 466.31 L224.55 467.81 L225 468.77 L225.45 469.56 L225.91 469 L226.36 469.67 L226.81 470.68 L227.27 467.33 L227.72 470.28 L228.17 467.48 L228.63 468.76 L229.08 468.24 L229.53 469.54 L229.99 469.41 L230.44 470.87 L230.89 467.67 L231.35 470.81 L231.8 470.82 L232.25 471.39 L232.71 469.4 L233.16 471.75 L233.62 470.63 L234.07 470.9 L234.52 470.31 L234.98 471.18 L235.43 472.08 L235.88 469.48 L236.34 467.17 L236.79 469.97 L237.24 470.99 L237.7 469.12 L238.15 468.97 L238.6 467.84 L239.06 470.28 L239.51 468.94 L239.96 471.6 L240.42 472.52 L240.87 473.69 L241.32 472.92 L241.78 472.39 L242.23 471.28 L242.69 473.05 L243.14 467.75 L243.59 468.77 L244.05 472.81 L244.5 469.7 L244.95 468.68 L245.41 469.62 L245.86 472.09 L246.31 472.76 L246.77 471.99 L247.22 470.25 L247.67 470.62 L248.13 471.76 L248.58 470.82 L249.03 471.53 L249.49 469.5 L249.94 472.58 L250.39 471.62 L250.85 471.03 L251.3 469.89 L251.75 468.01 L252.21 472.64 L252.66 470.8 L253.12 471.21 L253.57 471.54 L254.02 472.8 L254.48 471.89 L254.93 474.5 L255.38 472.97 L255.84 471.04 L256.29 471.32 L256.74 475.23 L257.2 470.85 L257.65 470.57 L258.1 470.04 L258.56 471.83 L259.01 472.04 L259.46 473.58 L259.92 470.42 L260.37 470 L260.82 473.75 L261.28 468.34 L261.73 471.04 L262.19 469.5 L262.64 472.4 L263.09 471.21 L263.55 472.97 L264 471.78 L264.45 472.3 L264.91 470.47 L265.36 472.04 L265.81 472.77 L266.27 473 L266.72 474.34 L267.17 474.81 L267.63 476.67 L268.08 471.3 L268.53 472.97 L268.99 472.85 L269.44 473.89 L269.89 475.52 L270.35 476.64 L270.8 475.51 L271.26 471.58 L271.71 471.07 L272.16 471.16 L272.62 472.3 L273.07 470.56 L273.52 471.95 L273.98 470.42 L274.43 472.24 L274.88 473.27 L275.34 474.99 L275.79 473.31 L276.24 472.88 L276.7 473.98 L277.15 472.45 L277.6 475.13 L278.06 473.76 L278.51 474.16 L278.97 473.18 L279.42 473.42 L279.87 472.83 L280.33 472.55 L280.78 473.78 L281.23 474.56 L281.69 471.65 L282.14 473.7 L282.59 475.39 L283.05 473.87 L283.5 475.76 L283.95 475.1 L284.41 472.31 L284.86 473.09 L285.31 476.32 L285.77 476.33 L286.22 475.13 L286.67 473.92 L287.13 470.49 L287.58 473.16 L288.03 471.46 L288.49 473.6 L288.94 474.16 L289.4 474.26 L289.85 475.22 L290.3 474.47 L290.76 472.48 L291.21 473.76 L291.66 476.47 L292.12 477.87 L292.57 473.51 L293.02 475.45 L293.48 476.78 L293.93 475.85 L294.38 474.99 L294.84 477.26 L295.29 478.21 L295.74 475.53 L296.2 473.4 L296.65 472.79 L297.11 476.29 L297.56 477.44 L298.01 475.15 L298.47 475.18 L298.92 475.42 L299.37 478.37 L299.83 474.53 L300.28 476.24 L300.73 474.81 L301.19 476.63 L301.64 476.82 L302.09 477.62 L302.55 475.44 L303 474.35 L303.45 474.42 L303.91 474.22 L304.36 477.03 L304.81 475.55 L305.27 473.13 L305.72 475.72 L306.18 474.71 L306.63 472.87 L307.08 474.95 L307.54 475.59 L307.99 474.75 L308.44 474.61 L308.9 473.64 L309.35 474.22 L309.8 478.55 L310.26 474.54 L310.71 476.87 L311.16 477.11 L311.62 475.86 L312.07 473.16 L312.52 477.39 L312.98 475.93 L313.43 479.62 L313.88 475.93 L314.34 474.76 L314.79 478.05 L315.25 476.26 L315.7 477.1 L316.15 477.97 L316.61 475 L317.06 474.29 L317.51 476.63 L317.97 478.38 L318.42 476.72 L318.87 476.53 L319.33 479.34 L319.78 479 L320.23 477.76 L320.69 480.39 L321.14 476.91 L321.59 477.24 L322.05 475.9 L322.5 478.23 L322.95 479.13 L323.41 476.94 L323.86 474.98 L324.31 477.43 L324.77 477.29 L325.22 477.7 L325.68 475.58 L326.13 477.52 L326.58 476.6 L327.04 478.82 L327.49 477.89 L327.94 477.35 L328.4 478.01 L328.85 479.25 L329.3 480.53 L329.76 477.92 L330.21 477.94 L330.66 476.7 L331.12 477.43 L331.57 475.55 L332.02 477.51 L332.48 480.43 L332.93 478.35 L333.38 477.35 L333.84 477.04 L334.29 476.71 L334.75 478.97 L335.2 477.48 L335.65 477.34 L336.11 481.27 L336.56 480.59 L337.01 478.91 L337.47 477.68 L337.92 481.02 L338.37 482.06 L338.83 479.07 L339.28 479.33 L339.73 479.97 L340.19 481.39 L340.64 480.14 L341.09 479.4 L341.55 478.28 L342 477.92 L342.46 479.38 L342.91 479.29 L343.36 478.25 L343.82 477.2 L344.27 478.37 L344.72 478.22 L345.18 479.47 L345.63 481.1 L346.08 481.2 L346.54 481.27 L346.99 476.83 L347.44 480.84 L347.9 477.63 L348.35 479.67 L348.8 479.44 L349.26 480.11 L349.71 478.07 L350.16 479.79 L350.62 476.92 L351.07 480.78 L351.52 478.57 L351.98 482.91 L352.43 479.16 L352.89 479.1 L353.34 479.33 L353.79 480.41 L354.25 479.42 L354.7 479.01 L355.15 478.59 L355.61 479.71 L356.06 481.5 L356.51 479.25 L356.97 479.83 L357.42 479.05 L357.87 479.4 L358.33 480.57 L358.78 480.29 L359.23 478.25 L359.69 480.52 L360.14 480.17 L360.6 481.15 L361.05 484.24 L361.5 480.5 L361.96 477.76 L362.41 481.77 L362.86 478.91 L363.32 478.84 L363.77 479.36 L364.22 480.94 L364.68 477.62 L365.13 478.77 L365.58 478.98 L366.04 481.45 L366.49 481.1 L366.94 480.47 L367.4 480.24 L367.85 478.68 L368.3 478.62 L368.76 481.75 L369.21 479.98 L369.66 480.44 L370.12 479.4 L370.57 478.07 L371.03 478.34 L371.48 481.77 L371.93 484.47 L372.39 481.77 L372.84 483.65 L373.29 481.13 L373.75 481.05" fill="none" stroke="#1f77b4" stroke-width="1.6" stroke-linejoin="round" stroke-linecap="square"/>
<path d="M102.1 479.16 L102.55 480.55 L103.01 482.05 L103.46 483.34 L103.91 485.13 L104.37 486.71 L104.82 488.24 L105.27 489.85 L105.73 491.46 L106.18 493.15 L106.63 494.91 L107.09 496.57 L107.54 498.47 L108 500.48 L108.45 502.69 L108.9 504.52 L109.36 506.69 L109.81 508.46 L110.26 510.22 L110.72 512.49 L111.17 514.53 L111.62 516.56 L112.08 518.21 L112.53 520.14 L112.98 521.9 L113.44 523.83 L113.89 525.65 L114.34 527.32 L114.8 529.22 L115.25 530.9 L115.7 532.47 L116.16 534.26 L116.61 535.77 L117.07 537.47 L117.52 538.99 L117.97 540.56 L118.43 542.34 L118.88 543.99 L119.33 545.48 L119.79 546.99 L120.24 548.49 L120.69 550.25 L121.15 551.65 L121.6 553.18 L122.05 554.6 L122.51 556.08 L122.96 557.73 L123.41 559.24 L123.87 560.54 L124.32 562.01 L124.77 563.5 L125.23 564.9 L125.68 566.04 L126.14 567.3 L126.59 568.84 L127.04 570.4 L127.5 571.81 L127.95 572.94 L128.4 574.65 L128.86 575.18 L129.31 576.54 L129.76 577.99 L130.22 579.29 L130.67 580.51 L131.12 581.32 L131.58 582.37 L132.03 583.37 L132.48 585.32 L132.94 586.03 L133.39 587.46 L133.84 589.01 L134.3 589.65 L134.75 590.03 L135.21 591.62 L135.66 593.12 L136.11 594.87 L136.57 595.23 L137.02 595.85 L137.47 598.87 L137.93 598.89 L138.38 599.18 L138.83 599.25 L139.29 599.93 L139.74 601.61 L140.19 602.78 L140.65 603.33 L141.1 604.75 L141.55 605.21 L142.01 605.43 L142.46 607.98 L142.91 607.18 L143.37 609.42 L143.82 609.37 L144.28 609.12 L144.73 610.86 L145.18 612.93 L145.64 612.35 L146.09 613.74 L146.54 615.66 L147 615.29 L147.45 616.78 L147.9 616.54 L148.36 618.03 L148.81 618.86 L149.26 619.73 L149.72 620.29 L150.17 622.02 L150.62 621.4 L151.08 623.66 L151.53 623.76 L151.99 624.02 L152.44 625.57 L152.89 626.48 L153.35 626.78 L153.8 627.41 L154.25 629.41 L154.71 629.11 L155.16 629.16 L155.61 631.49 L156.07 631.71 L156.52 631.68 L156.97 631.75 L157.43 633.47 L157.88 633.41 L158.33 633.97 L158.79 634.47 L159.24 634.81 L159.69 637.4 L160.15 637.29 L160.6 637.94 L161.06 637.76 L161.51 639.07 L161.96 637.27 L162.42 638.74 L162.87 638.4 L163.32 640.72 L163.78 641.8 L164.23 642.09 L164.68 641.52 L165.14 642.73 L165.59 643.32 L166.04 644.25 L166.5 645.23 L166.95 644.85 L167.4 646.13 L167.86 646.77 L168.31 647.25 L168.76 646.77 L169.22 647.25 L169.67 647.93 L170.12 648.13 L170.58 648.83 L171.03 649.49 L171.49 650.72 L171.94 650.93 L172.39 652.13 L172.85 652.27 L173.3 654.01 L173.75 653.64 L174.21 653.86 L174.66 653.82 L175.11 655.62 L175.57 656.4 L176.02 656.11 L176.47 657.22 L176.93 658.19 L177.38 657.3 L177.83 658.48 L178.29 658.48 L178.74 658.81 L179.19 658.74 L179.65 659.74 L180.1 660.38 L180.56 661.21 L181.01 660.89 L181.46 661.53 L181.92 663.38 L182.37 662.81 L182.82 663.29 L183.28 663.41 L183.73 662.93 L184.18 663.95 L184.64 664.34 L185.09 663.97 L185.54 666.2 L186 665.27 L186.45 665.38 L186.9 666.33 L187.36 667.05 L187.81 667.42 L188.26 667.48 L188.72 668.54 L189.17 668.37 L189.63 668.32 L190.08 668.82 L190.53 668.58 L190.99 668.94 L191.44 669.57 L191.89 669.24 L192.35 669.46 L192.8 670.23 L193.25 670.44 L193.71 670.63 L194.16 670.76 L194.61 672.24 L195.07 671.72 L195.52 672.42 L195.97 672.48 L196.43 671.84 L196.88 672.69 L197.33 673.29 L197.79 673.73 L198.24 672.38 L198.7 672.81 L199.15 674.3 L199.6 673.5 L200.06 673.68 L200.51 674.89 L200.96 674.87 L201.42 675.54 L201.87 674.16 L202.32 675.99 L202.78 676.33 L203.23 675.71 L203.68 675.85 L204.14 676.88 L204.59 676.23 L205.04 678.27 L205.5 677.66 L205.95 676.51 L206.41 677.35 L206.86 677.95 L207.31 678.49 L207.77 677.87 L208.22 678.44 L208.67 678.4 L209.13 678.42 L209.58 678.64 L210.03 679.43 L210.49 679.37 L210.94 679.81 L211.39 680 L211.85 680.11 L212.3 681.24 L212.75 681.11 L213.21 680.81 L213.66 680.13 L214.11 681.48 L214.57 681.24 L215.02 681.2 L215.47 680.82 L215.93 681.36 L216.38 682.74 L216.84 682.45 L217.29 682.12 L217.74 682.3 L218.2 682.15 L218.65 682.85 L219.1 682.38 L219.56 682.54 L220.01 683.83 L220.46 683.34 L220.92 683.87 L221.37 683.06 L221.82 683.43 L222.28 684.21 L222.73 684.17 L223.18 684.28 L223.64 684.17 L224.09 683.27 L224.55 684.73 L225 684.69 L225.45 683.93 L225.91 685.44 L226.36 686.06 L226.81 686.6 L227.27 685.72 L227.72 685.93 L228.17 684.93 L228.63 687.23 L229.08 686.26 L229.53 686.39 L229.99 686.19 L230.44 685.71 L230.89 685.56 L231.35 686.72 L231.8 686.04 L232.25 687.2 L232.71 686.79 L233.16 687.45 L233.62 687.25 L234.07 687.06 L234.52 687.18 L234.98 688.11 L235.43 688.52 L235.88 688.69 L236.34 687.28 L236.79 687.82 L237.24 688.37 L237.7 689.28 L238.15 688.41 L238.6 687.43 L239.06 688.08 L239.51 687.52 L239.96 689.53 L240.42 689.23 L240.87 689.32 L241.32 687.62 L241.78 688.83 L242.23 688.74 L242.69 689.52 L243.14 690.2 L243.59 689.32 L244.05 690.64 L244.5 690.08 L244.95 690.51 L245.41 689.96 L245.86 690.43 L246.31 690.91 L246.77 689.04 L247.22 690.86 L247.67 691.17 L248.13 691.43 L248.58 691.27 L249.03 690.6 L249.49 690.7 L249.94 690.35 L250.39 691.39 L250.85 691.63 L251.3 690.71 L251.75 690.63 L252.21 691.13 L252.66 691.45 L253.12 691.85 L253.57 692.46 L254.02 691.41 L254.48 691.8 L254.93 692.08 L255.38 692.38 L255.84 691.43 L256.29 692.49 L256.74 692.06 L257.2 691.47 L257.65 693.14 L258.1 692.23 L258.56 692.09 L259.01 692.45 L259.46 693.06 L259.92 693.15 L260.37 694.08 L260.82 693.66 L261.28 692.77 L261.73 693.04 L262.19 692.1 L262.64 692.69 L263.09 693.56 L263.55 693.99 L264 694.06 L264.45 693.34 L264.91 693.73 L265.36 693.94 L265.81 694.4 L266.27 694.53 L266.72 694.26 L267.17 694.92 L267.63 693.84 L268.08 694.43 L268.53 694.31 L268.99 694.63 L269.44 696.37 L269.89 695 L270.35 695.67 L270.8 694.93 L271.26 694.68 L271.71 695.64 L272.16 694.47 L272.62 694.81 L273.07 695.04 L273.52 694.65 L273.98 696.23 L274.43 695.38 L274.88 695.7 L275.34 695 L275.79 695.51 L276.24 695.75 L276.7 696.41 L277.15 695.55 L277.6 695.37 L278.06 696.37 L278.51 695.75 L278.97 695.12 L279.42 695.9 L279.87 696.25 L280.33 696.86 L280.78 696.83 L281.23 696.95 L281.69 697.13 L282.14 695.9 L282.59 696.6 L283.05 696.25 L283.5 695.95 L283.95 696.35 L284.41 695.67 L284.86 696.14 L285.31 695.79 L285.77 696.77 L286.22 696.78 L286.67 695.65 L287.13 696.79 L287.58 696.76 L288.03 697.5 L288.49 697.61 L288.94 696.67 L289.4 696.82 L289.85 696.84 L290.3 698.04 L290.76 698.12 L291.21 698.39 L291.66 697.41 L292.12 697.92 L292.57 697.7 L293.02 697.97 L293.48 697.3 L293.93 697.27 L294.38 698.4 L294.84 697.16 L295.29 698.22 L295.74 699.23 L296.2 697.34 L296.65 697.67 L297.11 698.02 L297.56 696.91 L298.01 698.01 L298.47 697.15 L298.92 696.89 L299.37 697.91 L299.83 697.65 L300.28 698.72 L300.73 698.88 L301.19 698.78 L301.64 697.8 L302.09 697.84 L302.55 698.31 L303 697.31 L303.45 698.7 L303.91 699.17 L304.36 699.49 L304.81 698.62 L305.27 698.16 L305.72 699.27 L306.18 698.25 L306.63 699.11 L307.08 698.68 L307.54 697.64 L307.99 698.78 L308.44 699.26 L308.9 699.53 L309.35 699.36 L309.8 698.21 L310.26 699.27 L310.71 698.85 L311.16 699 L311.62 699.74 L312.07 698.76 L312.52 700.06 L312.98 699.65 L313.43 698.35 L313.88 698.81 L314.34 698.84 L314.79 699.12 L315.25 699.86 L315.7 700.44 L316.15 700.73 L316.61 699.79 L317.06 700.15 L317.51 699.48 L317.97 699.64 L318.42 699.76 L318.87 700.31 L319.33 699.05 L319.78 699.35 L320.23 699.14 L320.69 700.11 L321.14 700.26 L321.59 700.23 L322.05 698.7 L322.5 699.39 L322.95 699.75 L323.41 700.18 L323.86 699.58 L324.31 700.54 L324.77 700.68 L325.22 700.1 L325.68 698.48 L326.13 699.29 L326.58 700.82 L327.04 700.23 L327.49 699.44 L327.94 699.33 L328.4 700.09 L328.85 700.41 L329.3 699.35 L329.76 700.3 L330.21 701.21 L330.66 701.33 L331.12 700.34 L331.57 699.8 L332.02 700.71 L332.48 700.11 L332.93 701.48 L333.38 701.1 L333.84 699.67 L334.29 700.52 L334.75 700.42 L335.2 699.81 L335.65 701.79 L336.11 701.07 L336.56 700.9 L337.01 701.34 L337.47 700.96 L337.92 700.75 L338.37 701.39 L338.83 701 L339.28 701.78 L339.73 700.61 L340.19 700.86 L340.64 702.24 L341.09 701.47 L341.55 701.24 L342 702.37 L342.46 701.43 L342.91 700.53 L343.36 700.98 L343.82 701.69 L344.27 701.72 L344.72 700.75 L345.18 701.34 L345.63 701.08 L346.08 701.41 L346.54 701.28 L346.99 701.79 L347.44 701.5 L347.9 702.17 L348.35 701.49 L348.8 701.93 L349.26 700.82 L349.71 700.65 L350.16 701.69 L350.62 701.15 L351.07 701.36 L351.52 701.33 L351.98 702.52 L352.43 702.13 L352.89 702.07 L353.34 701.2 L353.79 701.55 L354.25 701.47 L354.7 701.83 L355.15 702.26 L355.61 701.86 L356.06 701.62 L356.51 703.22 L356.97 702.78 L357.42 701.49 L357.87 701.5 L358.33 702.22 L358.78 702.09 L359.23 702.32 L359.69 701.95 L360.14 701.43 L360.6 701.75 L361.05 701.9 L361.5 702.12 L361.96 701.79 L362.41 700.56 L362.86 701.79 L363.32 703.13 L363.77 702.31 L364.22 703.43 L364.68 702.26 L365.13 701.43 L365.58 701.98 L366.04 702.77 L366.49 702.67 L366.94 703.07 L367.4 702.78 L367.85 703.06 L368.3 702.29 L368.76 701.71 L369.21 703.17 L369.66 703.37 L370.12 702.64 L370.57 701.65 L371.03 702.57 L371.48 703.3 L371.93 702.53 L372.39 702.29 L372.84 702.08 L373.29 703.34 L373.75 703.53" fill="none" stroke="#ff7f0e" stroke-width="1.6" stroke-linejoin="round" stroke-linecap="square"/>
<path d="M102.1 707.14 L102.55 708.19 L103.01 707 L103.46 705.93 L103.91 706.49 L104.37 707.68 L104.82 706.73 L105.27 706.21 L105.73 708.08 L106.18 707.16 L106.63 706.87 L107.09 707.91 L107.54 707.07 L108 708.52 L108.45 709.45 L108.9 708.27 L109.36 707.73 L109.81 707.53 L110.26 707.89 L110.72 709.76 L111.17 708.71 L111.62 708.57 L112.08 708.19 L112.53 707.95 L112.98 708.87 L113.44 708.53 L113.89 708.89 L114.34 708.35 L114.8 708.51 L115.25 708.47 L115.7 707.98 L116.16 708.91 L116.61 709.56 L117.07 708.61 L117.52 708.92 L117.97 708.96 L118.43 710.21 L118.88 709.47 L119.33 708.25 L119.79 709.86 L120.24 710.75 L120.69 710.74 L121.15 710.97 L121.6 710.55 L122.05 710.52 L122.51 710.03 L122.96 709.97 L123.41 710.49 L123.87 711.36 L124.32 711.35 L124.77 710.31 L125.23 710.1 L125.68 711.32 L126.14 710.82 L126.59 710.15 L127.04 710.88 L127.5 710.69 L127.95 710.03 L128.4 710.09 L128.86 710.09 L129.31 711.41 L129.76 711.15 L130.22 711.44 L130.67 711.18 L131.12 711.03 L131.58 711.08 L132.03 710.85 L132.48 710.16 L132.94 710.96 L133.39 711.14 L133.84 710.9 L134.3 711.21 L134.75 711.22 L135.21 711.43 L135.66 711.5 L136.11 712.19 L136.57 712.51 L137.02 712.37 L137.47 711.59 L137.93 711.06 L138.38 711.77 L138.83 711.46 L139.29 711.38 L139.74 711.99 L140.19 712.13 L140.65 712.11 L141.1 713.11 L141.55 712.28 L142.01 712.02 L142.46 712.53 L142.91 712.61 L143.37 712.12 L143.82 712.57 L144.28 711.83 L144.73 711.47 L145.18 712.04 L145.64 712.85 L146.09 711.93 L146.54 711.27 L147 711.91 L147.45 712.88 L147.9 713.06 L148.36 712.85 L148.81 712.9 L149.26 713.25 L149.72 713.67 L150.17 713.2 L150.62 712.42 L151.08 713.73 L151.53 713.5 L151.99 712.24 L152.44 711.94 L152.89 712.64 L153.35 714.06 L153.8 713.48 L154.25 711.82 L154.71 712.93 L155.16 713.38 L155.61 713.01 L156.07 713.45 L156.52 712.16 L156.97 713.19 L157.43 713.42 L157.88 713.56 L158.33 713.13 L158.79 713.74 L159.24 712.84 L159.69 713.56 L160.15 713.26 L160.6 713.85 L161.06 714.51 L161.51 713.19 L161.96 713.05 L162.42 713.41 L162.87 712.87 L163.32 713.31 L163.78 714.14 L164.23 713.43 L164.68 714.03 L165.14 713.83 L165.59 711.89 L166.04 712.44 L166.5 713.78 L166.95 714.42 L167.4 713.9 L167.86 713.69 L168.31 713.28 L168.76 713.83 L169.22 713.86 L169.67 714.66 L170.12 714.93 L170.58 714.09 L171.03 712.63 L171.49 713.92 L171.94 714.56 L172.39 714.18 L172.85 714.95 L173.3 713.63 L173.75 713.19 L174.21 714.55 L174.66 713.81 L175.11 713.53 L175.57 713.88 L176.02 713.56 L176.47 713.92 L176.93 713.79 L177.38 714.09 L177.83 714.8 L178.29 713.86 L178.74 714.56 L179.19 714.75 L179.65 714.11 L180.1 713.68 L180.56 714.77 L181.01 715.04 L181.46 714.21 L181.92 714.11 L182.37 714.27 L182.82 714.6 L183.28 714.62 L183.73 714.48 L184.18 715.06 L184.64 714.94 L185.09 714.59 L185.54 715.44 L186 715.41 L186.45 715.74 L186.9 714.7 L187.36 715.57 L187.81 714.71 L188.26 714.48 L188.72 714.52 L189.17 713.77 L189.63 715.14 L190.08 715.16 L190.53 714.31 L190.99 714.65 L191.44 715.52 L191.89 714.83 L192.35 714.72 L192.8 715.17 L193.25 714.71 L193.71 714.13 L194.16 714.32 L194.61 713.83 L195.07 714.35 L195.52 714.7 L195.97 714.65 L196.43 714.52 L196.88 713.75 L197.33 714.88 L197.79 715.37 L198.24 714.75 L198.7 714.53 L199.15 715.41 L199.6 714.63 L200.06 715.35 L200.51 714.4 L200.96 714.3 L201.42 714.59 L201.87 715.75 L202.32 715.8 L202.78 714.44 L203.23 715.48 L203.68 715.6 L204.14 714.15 L204.59 714.66 L205.04 714.77 L205.5 715.88 L205.95 714.64 L206.41 713.83 L206.86 714.42 L207.31 715.39 L207.77 714.74 L208.22 715.77 L208.67 715.63 L209.13 715.74 L209.58 714.93 L210.03 715.44 L210.49 714.94 L210.94 715.06 L211.39 715.09 L211.85 715.59 L212.3 715.33 L212.75 716.27 L213.21 714.75 L213.66 715.29 L214.11 715.62 L214.57 715.37 L215.02 716.6 L215.47 715.76 L215.93 716.13 L216.38 715.98 L216.84 715.55 L217.29 714.74 L217.74 714.59 L218.2 714.71 L218.65 715.3 L219.1 715.53 L219.56 716.04 L220.01 714.58 L220.46 714.77 L220.92 716.04 L221.37 716.4 L221.82 715.78 L222.28 715.72 L222.73 716.65 L223.18 715.6 L223.64 715.53 L224.09 716.24 L224.55 716.31 L225 715.43 L225.45 716.32 L225.91 715.59 L226.36 716.11 L226.81 715.83 L227.27 714.88 L227.72 715.81 L228.17 715.41 L228.63 715.3 L229.08 715.3 L229.53 715.57 L229.99 715.13 L230.44 715.16 L230.89 715.37 L231.35 716.27 L231.8 715.67 L232.25 715.32 L232.71 716.63 L233.16 716 L233.62 715.41 L234.07 715.09 L234.52 715.61 L234.98 716.51 L235.43 715.48 L235.88 715.19 L236.34 715.35 L236.79 716.32 L237.24 716.6 L237.7 716.22 L238.15 716.2 L238.6 715.28 L239.06 715.81 L239.51 714.89 L239.96 715.77 L240.42 714.51 L240.87 714.44 L241.32 715.45 L241.78 715.73 L242.23 716.06 L242.69 715.47 L243.14 716.51 L243.59 715.06 L244.05 716.06 L244.5 716.12 L244.95 715.65 L245.41 715.3 L245.86 716.15 L246.31 716.07 L246.77 715.55 L247.22 716.75 L247.67 717.68 L248.13 715.87 L248.58 716.94 L249.03 717.08 L249.49 716.44 L249.94 717.01 L250.39 716.92 L250.85 716.48 L251.3 716.73 L251.75 715.67 L252.21 715.31 L252.66 715.57 L253.12 716.05 L253.57 717.1 L254.02 715 L254.48 716.37 L254.93 715.81 L255.38 716.65 L255.84 716.99 L256.29 716.05 L256.74 716.51 L257.2 717.03 L257.65 716.08 L258.1 715.43 L258.56 716.1 L259.01 716.66 L259.46 716.12 L259.92 715.8 L260.37 716.92 L260.82 716.06 L261.28 715.4 L261.73 715.28 L262.19 715.82 L262.64 716.71 L263.09 716.39 L263.55 716.43 L264 716.02 L264.45 716.29 L264.91 717.1 L265.36 716.54 L265.81 716.4 L266.27 716.62 L266.72 715.71 L267.17 715.75 L267.63 715.54 L268.08 716.53 L268.53 716.98 L268.99 716.87 L269.44 716.71 L269.89 715.69 L270.35 716.28 L270.8 717.32 L271.26 717.05 L271.71 717.53 L272.16 717.16 L272.62 717.64 L273.07 716.13 L273.52 715.33 L273.98 715.41 L274.43 715.71 L274.88 716.19 L275.34 716.23 L275.79 716.81 L276.24 716.59 L276.7 717.01 L277.15 717.57 L277.6 716.6 L278.06 715.4 L278.51 716.74 L278.97 717.21 L279.42 717.46 L279.87 717.01 L280.33 716.93 L280.78 716.89 L281.23 717.4 L281.69 717.51 L282.14 715.64 L282.59 716.4 L283.05 716.85 L283.5 716.2 L283.95 717.09 L284.41 717.22 L284.86 717.17 L285.31 717.12 L285.77 716.76 L286.22 716.63 L286.67 716.76 L287.13 716.79 L287.58 716.96 L288.03 717.02 L288.49 716.43 L288.94 716.64 L289.4 716.68 L289.85 716.25 L290.3 716.71 L290.76 716.63 L291.21 716.18 L291.66 716.75 L292.12 716.59 L292.57 715.5 L293.02 716.33 L293.48 716.28 L293.93 715.87 L294.38 716.3 L294.84 717.46 L295.29 717.91 L295.74 716.89 L296.2 716.69 L296.65 716.15 L297.11 715.96 L297.56 716.42 L298.01 716.6 L298.47 717.37 L298.92 718.09 L299.37 716.74 L299.83 716.66 L300.28 717.35 L300.73 716.45 L301.19 718.24 L301.64 717.69 L302.09 717.29 L302.55 717.35 L303 717.31 L303.45 716.84 L303.91 717.11 L304.36 717.51 L304.81 717.33 L305.27 716.36 L305.72 716.6 L306.18 716.89 L306.63 716.55 L307.08 717.09 L307.54 716.37 L307.99 716.84 L308.44 717.16 L308.9 716.87 L309.35 717.12 L309.8 716.43 L310.26 717.22 L310.71 718.02 L311.16 717.93 L311.62 718.38 L312.07 716.34 L312.52 717.06 L312.98 717.25 L313.43 717.75 L313.88 717.65 L314.34 716.7 L314.79 717.19 L315.25 716.62 L315.7 716.71 L316.15 716.86 L316.61 716.87 L317.06 716.2 L317.51 717.51 L317.97 716.46 L318.42 717.18 L318.87 717.5 L319.33 717.43 L319.78 717.74 L320.23 717.01 L320.69 717.21 L321.14 717.15 L321.59 717.57 L322.05 716.57 L322.5 717.22 L322.95 718.02 L323.41 718.84 L323.86 718.1 L324.31 716.63 L324.77 716.91 L325.22 717.82 L325.68 716.94 L326.13 716.74 L326.58 717.62 L327.04 717.47 L327.49 717.32 L327.94 717.77 L328.4 716.35 L328.85 716.26 L329.3 717.79 L329.76 716.41 L330.21 716.81 L330.66 716.72 L331.12 717.06 L331.57 716.73 L332.02 717.32 L332.48 717.94 L332.93 717.68 L333.38 717.21 L333.84 716.95 L334.29 717.63 L334.75 715.89 L335.2 715.96 L335.65 717.07 L336.11 717.23 L336.56 718.19 L337.01 717.98 L337.47 716.48 L337.92 716.79 L338.37 716.53 L338.83 717.79 L339.28 716.98 L339.73 717.24 L340.19 717.54 L340.64 718.44 L341.09 717.99 L341.55 717.04 L342 717.72 L342.46 718.16 L342.91 716.83 L343.36 717.3 L343.82 718.91 L344.27 718.68 L344.72 718.03 L345.18 717.79 L345.63 717.79 L346.08 717.26 L346.54 716.8 L346.99 718.62 L347.44 717.83 L347.9 717.21 L348.35 718.09 L348.8 717.36 L349.26 718.61 L349.71 718.08 L350.16 717.78 L350.62 716.93 L351.07 717.87 L351.52 718.62 L351.98 718.23 L352.43 717.59 L352.89 717.83 L353.34 717.75 L353.79 718.03 L354.25 718.01 L354.7 717.62 L355.15 718.38 L355.61 718.34 L356.06 717.95 L356.51 717.86 L356.97 717.78 L357.42 717.61 L357.87 717.19 L358.33 717.32 L358.78 717.75 L359.23 718.8 L359.69 717.25 L360.14 717.4 L360.6 718.03 L361.05 718.38 L361.5 717.85 L361.96 717.38 L362.41 717.09 L362.86 717.69 L363.32 718.31 L363.77 718.23 L364.22 718.35 L364.68 718.38 L365.13 718.46 L365.58 717.92 L366.04 717.18 L366.49 718.75 L366.94 718.99 L367.4 718.21 L367.85 716.71 L368.3 717.37 L368.76 719.17 L369.21 719.19 L369.66 717.94 L370.12 718.09 L370.57 717.59 L371.03 718.48 L371.48 718 L371.93 717.42 L372.39 717.04 L372.84 718.42 L373.29 717.74 L373.75 718.33" fill="none" stroke="#2ca02c" stroke-width="1.6" stroke-linejoin="round" stroke-linecap="square"/>
<path d="M102.1 730.5v3.5M192.8 730.5v3.5M283.5 730.5v3.5M374.2 730.5v3.5M88.5 730.5h-3.5M88.5 622.86h-3.5M88.5 515.22h-3.5" stroke="#000" stroke-width="0.8" fill="none"/>
<path d="M88.5 698.1h-2M88.5 679.14h-2M88.5 665.69h-2M88.5 655.26h-2M88.5 646.74h-2M88.5 639.53h-2M88.5 633.29h-2M88.5 627.79h-2M88.5 590.46h-2M88.5 571.5h-2M88.5 558.05h-2M88.5 547.62h-2M88.5 539.1h-2M88.5 531.89h-2M88.5 525.65h-2M88.5 520.15h-2M88.5 482.82h-2M88.5 463.86h-2M88.5 450.41h-2M88.5 439.98h-2M88.5 431.46h-2M88.5 424.25h-2M88.5 418.01h-2M88.5 412.51h-2" stroke="#000" stroke-width="0.6" fill="none"/>
<rect x="88.5" y="412.5" width="299" height="318" fill="none" stroke="#000" stroke-width="0.8"/>
<text x="102.95" y="753.6" text-anchor="middle" style="font-size:22.0px;font-family:'DejaVu Sans','Liberation Sans',sans-serif">0</text>
<text x="193.65" y="753.6" text-anchor="middle" style="font-size:22.0px;font-family:'DejaVu Sans','Liberation Sans',sans-serif">200</text>
<text x="284.35" y="753.6" text-anchor="middle" style="font-size:22.0px;font-family:'DejaVu Sans','Liberation Sans',sans-serif">400</text>
<text x="375.05" y="753.6" text-anchor="middle" style="font-size:22.0px;font-family:'DejaVu Sans','Liberation Sans',sans-serif">600</text>
<text style="font-family:'DejaVu Sans','Liberation Sans',sans-serif"><tspan x="30.2" y="738.71" style="font-size:22.0px">10</tspan><tspan x="58.4" y="730.29" style="font-size:15.4px">−</tspan><tspan x="71.31" y="730.29" style="font-size:15.4px">3</tspan></text>
<text style="font-family:'DejaVu Sans','Liberation Sans',sans-serif"><tspan x="30.2" y="631.07" style="font-size:22.0px">10</tspan><tspan x="58.4" y="622.65" style="font-size:15.4px">−</tspan><tspan x="71.31" y="622.65" style="font-size:15.4px">2</tspan></text>
<text style="font-family:'DejaVu Sans','Liberation Sans',sans-serif"><tspan x="30.2" y="523.43" style="font-size:22.0px">10</tspan><tspan x="58.4" y="515.01" style="font-size:15.4px">−</tspan><tspan x="71.31" y="515.01" style="font-size:15.4px">1</tspan></text>
<text style="font-size:26.4px;font-family:'DejaVu Sans','Liberation Sans',sans-serif"><tspan x="161.59" y="407.1" style="font-style:oblique">d</tspan><tspan x="178.45" y="407.1" style="font-style:oblique">i</tspan><tspan x="185.99" y="407.1" style="font-style:oblique">m</tspan><tspan x="211.91" y="407.1" style="">(</tspan><tspan x="222.21" y="407.1" style="font-weight:700">z</tspan><tspan x="237.27" y="407.1" style="">)</tspan><tspan x="253.53" y="407.1" style="">=</tspan><tspan x="281.09" y="407.1" style="">2</tspan><tspan x="297.89" y="407.1" style="">0</tspan></text>
<text x="238.85" y="777.9" text-anchor="middle" style="font-size:22.0px;font-family:'DejaVu Sans','Liberation Sans',sans-serif">Epoch</text>
<text x="21.9" y="571.5" text-anchor="middle" transform="rotate(-90 21.9 571.5)" style="font-size:22.0px;font-family:'DejaVu Sans','Liberation Sans',sans-serif">Loss</text>
</g>
<g id="axBR">
<path d="M461.1 464.91 L461.55 465.13 L462.01 463.81 L462.46 463.76 L462.91 463.01 L463.37 462.16 L463.82 460.7 L464.27 463.91 L464.73 462.45 L465.18 462.41 L465.64 463.54 L466.09 461.07 L466.54 462.57 L467 463.57 L467.45 461.29 L467.9 462.74 L468.36 462.16 L468.81 462.14 L469.26 461.92 L469.72 460.82 L470.17 462.99 L470.62 463.42 L471.08 462.15 L471.53 462.02 L471.98 461.84 L472.44 463.02 L472.89 463.63 L473.34 465.47 L473.8 466.23 L474.25 464.22 L474.71 464.22 L475.16 461.79 L475.61 460.74 L476.07 463.43 L476.52 463.83 L476.97 463.51 L477.43 462.55 L477.88 462.64 L478.33 462.98 L478.79 464.62 L479.24 463.88 L479.69 464.78 L480.15 465.15 L480.6 466.21 L481.05 463.85 L481.51 462.38 L481.96 462.53 L482.41 464.03 L482.87 464.4 L483.32 465.99 L483.78 466.48 L484.23 463.71 L484.68 464.51 L485.14 466.14 L485.59 465.98 L486.04 467.92 L486.5 465.75 L486.95 466.03 L487.4 463.09 L487.86 464.31 L488.31 467.36 L488.76 468.08 L489.22 465.95 L489.67 463.76 L490.12 465.95 L490.58 466.79 L491.03 466.25 L491.48 465.72 L491.94 465.65 L492.39 465.52 L492.85 466.47 L493.3 465.98 L493.75 467.48 L494.21 466.98 L494.66 465.54 L495.11 465.65 L495.57 466.65 L496.02 467.68 L496.47 466.59 L496.93 467.58 L497.38 467.26 L497.83 466.25 L498.29 466.17 L498.74 467.9 L499.19 467.82 L499.65 467.01 L500.1 466.84 L500.55 464.84 L501.01 465.66 L501.46 466.5 L501.92 468.49 L502.37 467.07 L502.82 466.61 L503.28 463.94 L503.73 466.24 L504.18 467.2 L504.64 467.35 L505.09 467.25 L505.54 465.89 L506 467.28 L506.45 467.99 L506.9 471.48 L507.36 469.53 L507.81 467.56 L508.26 468.6 L508.72 468.08 L509.17 467.49 L509.62 468.12 L510.08 469.19 L510.53 469.21 L510.99 469.73 L511.44 466.58 L511.89 468.54 L512.35 469.76 L512.8 466.36 L513.25 467.14 L513.71 470.04 L514.16 468.68 L514.61 469.72 L515.07 468.62 L515.52 469.15 L515.97 468.94 L516.43 468.66 L516.88 468.93 L517.33 468.01 L517.79 468.4 L518.24 470.08 L518.69 469.27 L519.15 470.31 L519.6 468.37 L520.06 471.01 L520.51 467.47 L520.96 471.24 L521.42 469.83 L521.87 470.01 L522.32 469.26 L522.78 468.05 L523.23 469.29 L523.68 471.01 L524.14 470.36 L524.59 472.15 L525.04 470.05 L525.5 469.96 L525.95 471.74 L526.4 470.42 L526.86 470.8 L527.31 472.03 L527.76 472.72 L528.22 473.57 L528.67 471.55 L529.12 469.55 L529.58 468.75 L530.03 469.82 L530.49 469.5 L530.94 473.01 L531.39 471.06 L531.85 470.19 L532.3 469.87 L532.75 471.99 L533.21 470.09 L533.66 469.5 L534.11 472.71 L534.57 472.53 L535.02 473.96 L535.47 472.02 L535.93 473.57 L536.38 471.51 L536.83 471.41 L537.29 471.19 L537.74 469.07 L538.2 472.5 L538.65 472.47 L539.1 470.59 L539.56 471.56 L540.01 471.06 L540.46 469.89 L540.92 472.66 L541.37 471.35 L541.82 470.87 L542.28 470.83 L542.73 470.7 L543.18 470.57 L543.64 473.88 L544.09 472.75 L544.54 471.77 L545 468.65 L545.45 474.42 L545.9 473.67 L546.36 470.58 L546.81 471.71 L547.26 471 L547.72 473.61 L548.17 472.32 L548.63 474.26 L549.08 473.73 L549.53 473.5 L549.99 471.26 L550.44 473.29 L550.89 471.98 L551.35 472.41 L551.8 472.24 L552.25 471.37 L552.71 474.49 L553.16 473.31 L553.61 473.75 L554.07 472.38 L554.52 472.56 L554.97 473.45 L555.43 472.7 L555.88 474.61 L556.34 475.45 L556.79 473.27 L557.24 473.95 L557.7 476.41 L558.15 473.97 L558.6 472.83 L559.06 472.77 L559.51 475.04 L559.96 476.71 L560.42 473.9 L560.87 473.92 L561.32 474.93 L561.78 473.39 L562.23 474.25 L562.68 475.53 L563.14 474.53 L563.59 475.16 L564.04 474.75 L564.5 475.76 L564.95 474.81 L565.4 477.17 L565.86 474.49 L566.31 472.71 L566.77 474.74 L567.22 475.79 L567.67 474.62 L568.13 475.8 L568.58 475.98 L569.03 475 L569.49 475.68 L569.94 472.26 L570.39 477.47 L570.85 476.49 L571.3 473.97 L571.75 474.16 L572.21 476.48 L572.66 477.98 L573.11 477.14 L573.57 474.73 L574.02 472.65 L574.48 474.17 L574.93 475.23 L575.38 475.69 L575.84 474.28 L576.29 474.78 L576.74 476.03 L577.2 475.71 L577.65 475.47 L578.1 476.97 L578.56 478.63 L579.01 478.55 L579.46 479.87 L579.92 474.96 L580.37 474.81 L580.82 475.87 L581.28 478.33 L581.73 477.62 L582.18 474.52 L582.64 473.69 L583.09 477.43 L583.55 477.18 L584 478.06 L584.45 477.48 L584.91 478.95 L585.36 478.65 L585.81 478.55 L586.27 476.73 L586.72 477.88 L587.17 476.44 L587.63 478.68 L588.08 476.06 L588.53 477.6 L588.99 476.29 L589.44 475.84 L589.89 478.17 L590.35 479.19 L590.8 478.22 L591.25 477.62 L591.71 476.2 L592.16 478.03 L592.62 477.88 L593.07 478.19 L593.52 479.28 L593.98 476.12 L594.43 477.34 L594.88 478.07 L595.34 481.54 L595.79 476.69 L596.24 477.64 L596.7 479.35 L597.15 479.48 L597.6 477.89 L598.06 477.78 L598.51 477.03 L598.96 478.42 L599.42 476.8 L599.87 477.65 L600.32 479.29 L600.78 480.12 L601.23 483.11 L601.69 477.35 L602.14 477.68 L602.59 478.31 L603.05 480.94 L603.5 481.09 L603.95 477.98 L604.41 479.38 L604.86 477.53 L605.31 479.7 L605.77 479.53 L606.22 479.25 L606.67 480.13 L607.13 482.14 L607.58 480.05 L608.03 477.59 L608.49 479.63 L608.94 479.58 L609.39 481.78 L609.85 481.37 L610.3 480.7 L610.75 480.53 L611.21 480.71 L611.66 479.1 L612.12 480.32 L612.57 480 L613.02 476.73 L613.48 477.57 L613.93 482.05 L614.38 481.76 L614.84 478.64 L615.29 481.29 L615.74 480.38 L616.2 479.04 L616.65 481.01 L617.1 481.14 L617.56 480.38 L618.01 478.48 L618.46 479.8 L618.92 480.64 L619.37 480.72 L619.83 480.97 L620.28 480.19 L620.73 483.46 L621.19 480.46 L621.64 482.69 L622.09 479.16 L622.55 482.87 L623 481.08 L623.45 480.56 L623.91 478.69 L624.36 481.64 L624.81 480.47 L625.27 483.19 L625.72 483.52 L626.17 484.25 L626.63 484.13 L627.08 481.13 L627.53 482.9 L627.99 483.08 L628.44 482.84 L628.89 483.52 L629.35 483.99 L629.8 481.09 L630.26 480.25 L630.71 483 L631.16 485.92 L631.62 482.67 L632.07 483.81 L632.52 482.07 L632.98 484.6 L633.43 482.86 L633.88 483.31 L634.34 481.95 L634.79 484.27 L635.24 484.96 L635.7 484.73 L636.15 483.24 L636.6 480.57 L637.06 482.59 L637.51 481.63 L637.97 481.22 L638.42 481.53 L638.87 482.39 L639.33 485.02 L639.78 484.63 L640.23 487.93 L640.69 484.06 L641.14 483.41 L641.59 484.73 L642.05 482.63 L642.5 483.5 L642.95 482.6 L643.41 483.79 L643.86 484.44 L644.31 482.22 L644.77 483.01 L645.22 481.71 L645.67 481.8 L646.13 482.05 L646.58 483.55 L647.04 485.5 L647.49 484.09 L647.94 479.82 L648.4 483.32 L648.85 482.92 L649.3 486.51 L649.76 483.13 L650.21 482.14 L650.66 483.18 L651.12 486.36 L651.57 484.63 L652.02 485.52 L652.48 486.19 L652.93 486.01 L653.38 486.05 L653.84 486.86 L654.29 481.53 L654.74 484.63 L655.2 482.94 L655.65 484.11 L656.11 485.91 L656.56 484.81 L657.01 485.61 L657.47 485.22 L657.92 487.31 L658.37 487.06 L658.83 482.79 L659.28 484.71 L659.73 485.19 L660.19 487.75 L660.64 487.56 L661.09 486.66 L661.55 487.88 L662 487.38 L662.45 486.77 L662.91 485.08 L663.36 487.81 L663.81 485.55 L664.27 485.18 L664.72 488.58 L665.18 487.55 L665.63 489.92 L666.08 485.05 L666.54 487.36 L666.99 487.17 L667.44 486.21 L667.9 486.98 L668.35 486.65 L668.8 485.46 L669.26 486.04 L669.71 485.33 L670.16 486 L670.62 487.63 L671.07 487.87 L671.52 484.37 L671.98 484.92 L672.43 483.61 L672.88 486.96 L673.34 489.27 L673.79 486.73 L674.25 485.21 L674.7 484.91 L675.15 485.97 L675.61 486.01 L676.06 489.79 L676.51 488.1 L676.97 486.95 L677.42 488.65 L677.87 489.83 L678.33 489.59 L678.78 489.66 L679.23 488.03 L679.69 490.36 L680.14 488.47 L680.59 489.15 L681.05 485.76 L681.5 487.79 L681.95 487.58 L682.41 487.65 L682.86 489.33 L683.32 488.17 L683.77 488.97 L684.22 487.85 L684.68 488.93 L685.13 487.47 L685.58 489.48 L686.04 487.95 L686.49 487.92 L686.94 489.6 L687.4 491.08 L687.85 487.35 L688.3 486.08 L688.76 487.66 L689.21 488.24 L689.66 488.14 L690.12 488.93 L690.57 490.69 L691.02 492.03 L691.48 487.47 L691.93 490.08 L692.38 489.42 L692.84 491.85 L693.29 488.15 L693.75 489.06 L694.2 491.02 L694.65 491.82 L695.11 489.31 L695.56 487.26 L696.01 490.65 L696.47 490.14 L696.92 488.95 L697.37 490.14 L697.83 490.02 L698.28 488.94 L698.73 490.92 L699.19 490.82 L699.64 492.71 L700.09 489.9 L700.55 488.14 L701 490.14 L701.46 490.32 L701.91 491.65 L702.36 488.42 L702.82 489.42 L703.27 492.58 L703.72 491.83 L704.18 493.43 L704.63 493.43 L705.08 491.16 L705.54 491.24 L705.99 489.99 L706.44 492.05 L706.9 491.54 L707.35 490.6 L707.8 490.26 L708.26 492.22 L708.71 491.8 L709.16 491.09 L709.62 492.08 L710.07 492.6 L710.53 489.67 L710.98 489.89 L711.43 491.22 L711.89 493.43 L712.34 490.04 L712.79 493.55 L713.25 493.33 L713.7 491.76 L714.15 491.55 L714.61 491.92 L715.06 493.85 L715.51 492.79 L715.97 493.3 L716.42 491.09 L716.87 493.65 L717.33 493.18 L717.78 493.15 L718.23 490.89 L718.69 496.32 L719.14 492.15 L719.6 489.8 L720.05 494 L720.5 493.34 L720.96 491.5 L721.41 491.21 L721.86 495.41 L722.32 494.12 L722.77 491.92 L723.22 490.65 L723.68 493.99 L724.13 497.04 L724.58 493.61 L725.04 493.26 L725.49 491.92 L725.94 493.13 L726.4 491.73 L726.85 492.49 L727.3 493.62 L727.76 493.97 L728.21 494.84 L728.66 495.05 L729.12 491.56 L729.57 492.48 L730.03 492.34 L730.48 494.09 L730.93 493.69 L731.39 493.27 L731.84 496.24 L732.29 493.72 L732.75 493.66" fill="none" stroke="#1f77b4" stroke-width="1.6" stroke-linejoin="round" stroke-linecap="square"/>
<path d="M461.1 476.52 L461.55 479.19 L462.01 481.88 L462.46 484.54 L462.91 487.3 L463.37 489.94 L463.82 492.78 L464.27 495.51 L464.73 497.98 L465.18 500.57 L465.64 503.46 L466.09 506.24 L466.54 508.83 L467 511.6 L467.45 514.36 L467.9 517.13 L468.36 519.78 L468.81 522.53 L469.26 525.08 L469.72 527.7 L470.17 530.1 L470.62 532.52 L471.08 535.06 L471.53 537.39 L471.98 539.65 L472.44 542.08 L472.89 544.24 L473.34 546.47 L473.8 548.36 L474.25 550.1 L474.71 551.95 L475.16 553.71 L475.61 555.5 L476.07 557 L476.52 558.6 L476.97 560.36 L477.43 561.94 L477.88 563.62 L478.33 565.1 L478.79 566.75 L479.24 568.15 L479.69 569.66 L480.15 570.72 L480.6 571.6 L481.05 573.05 L481.51 574.05 L481.96 576.12 L482.41 577.68 L482.87 578.42 L483.32 579.26 L483.78 581.11 L484.23 582.35 L484.68 583.22 L485.14 584.61 L485.59 585.63 L486.04 586.63 L486.5 587.95 L486.95 589.28 L487.4 589.78 L487.86 590.42 L488.31 592.28 L488.76 593.83 L489.22 594.02 L489.67 595.63 L490.12 596.77 L490.58 597.85 L491.03 598.77 L491.48 599.92 L491.94 600.09 L492.39 600.89 L492.85 601.98 L493.3 602.71 L493.75 604.68 L494.21 605.78 L494.66 606.2 L495.11 608.86 L495.57 608.66 L496.02 609.33 L496.47 611.33 L496.93 612.27 L497.38 611.08 L497.83 611.54 L498.29 614.94 L498.74 615.25 L499.19 615.31 L499.65 615.78 L500.1 618.4 L500.55 619.6 L501.01 619.89 L501.46 620.72 L501.92 619.81 L502.37 621.69 L502.82 622.28 L503.28 623.43 L503.73 623.78 L504.18 624.61 L504.64 625.18 L505.09 625.88 L505.54 627 L506 627.72 L506.45 628.54 L506.9 629.35 L507.36 630.76 L507.81 631.44 L508.26 632.09 L508.72 632.45 L509.17 632.39 L509.62 633.26 L510.08 634.68 L510.53 635.38 L510.99 636.33 L511.44 636.79 L511.89 637.59 L512.35 638.17 L512.8 638.51 L513.25 638.77 L513.71 639.3 L514.16 639.24 L514.61 639.68 L515.07 641.62 L515.52 640.68 L515.97 641.56 L516.43 642.14 L516.88 642.83 L517.33 643.33 L517.79 643.06 L518.24 645.62 L518.69 646.51 L519.15 645.14 L519.6 645 L520.06 646.66 L520.51 647.02 L520.96 647.39 L521.42 646.83 L521.87 647.46 L522.32 648.23 L522.78 647.49 L523.23 648.57 L523.68 650.3 L524.14 650.4 L524.59 650.66 L525.04 650.09 L525.5 650.56 L525.95 651.79 L526.4 652.82 L526.86 652.38 L527.31 653.13 L527.76 652.75 L528.22 653.12 L528.67 653.8 L529.12 654.63 L529.58 655.4 L530.03 655.05 L530.49 654.46 L530.94 655.65 L531.39 656.53 L531.85 657.46 L532.3 657.5 L532.75 657.33 L533.21 658.67 L533.66 658.14 L534.11 658.89 L534.57 659.39 L535.02 659.94 L535.47 660.72 L535.93 660.64 L536.38 661.41 L536.83 661.48 L537.29 662.21 L537.74 662.44 L538.2 661.28 L538.65 662.54 L539.1 662.27 L539.56 662.53 L540.01 663.26 L540.46 663.62 L540.92 663.53 L541.37 663.76 L541.82 664.94 L542.28 664.52 L542.73 666.36 L543.18 665.39 L543.64 665.07 L544.09 665.83 L544.54 667.11 L545 666.25 L545.45 667.53 L545.9 669.47 L546.36 667.69 L546.81 667.46 L547.26 668.74 L547.72 670.36 L548.17 669.54 L548.63 669.58 L549.08 669.69 L549.53 669.05 L549.99 669.92 L550.44 670.92 L550.89 670.92 L551.35 672.07 L551.8 671.15 L552.25 670.85 L552.71 671.3 L553.16 673.93 L553.61 673.84 L554.07 672.99 L554.52 673.75 L554.97 674.5 L555.43 674.07 L555.88 674.39 L556.34 673.37 L556.79 673.38 L557.24 675.01 L557.7 674.78 L558.15 676.02 L558.6 675.36 L559.06 676.59 L559.51 675.79 L559.96 676.04 L560.42 676.39 L560.87 676.5 L561.32 676.72 L561.78 677.19 L562.23 677.13 L562.68 677.11 L563.14 677.01 L563.59 677.37 L564.04 677.29 L564.5 678.26 L564.95 677.79 L565.4 677.99 L565.86 678.55 L566.31 679.03 L566.77 679.74 L567.22 679.5 L567.67 679.46 L568.13 679.54 L568.58 679.8 L569.03 679.95 L569.49 681.13 L569.94 680.48 L570.39 679.81 L570.85 680.63 L571.3 681.35 L571.75 681.87 L572.21 681.72 L572.66 682.31 L573.11 681.12 L573.57 682.82 L574.02 682.05 L574.48 682.41 L574.93 682.59 L575.38 681.37 L575.84 683.28 L576.29 682.56 L576.74 683.46 L577.2 683.48 L577.65 683.77 L578.1 684.23 L578.56 683.72 L579.01 684.4 L579.46 684.4 L579.92 683.85 L580.37 684.88 L580.82 684.66 L581.28 684.11 L581.73 685.28 L582.18 685.8 L582.64 685.94 L583.09 684.46 L583.55 685.86 L584 685.89 L584.45 685.02 L584.91 685.48 L585.36 686.45 L585.81 686.45 L586.27 687.29 L586.72 686.31 L587.17 687.07 L587.63 686.06 L588.08 685.77 L588.53 687.07 L588.99 687.63 L589.44 687.31 L589.89 687.32 L590.35 687.67 L590.8 687.88 L591.25 687.14 L591.71 687.64 L592.16 688.57 L592.62 687.99 L593.07 688.12 L593.52 687.4 L593.98 687.65 L594.43 688.18 L594.88 688.62 L595.34 688.97 L595.79 688.65 L596.24 688.33 L596.7 690.62 L597.15 688.9 L597.6 688.85 L598.06 688.57 L598.51 689.84 L598.96 689.52 L599.42 689.68 L599.87 689.66 L600.32 689.07 L600.78 688.42 L601.23 689.09 L601.69 690.75 L602.14 690.41 L602.59 690.17 L603.05 690.76 L603.5 690.5 L603.95 690.97 L604.41 690.67 L604.86 690.24 L605.31 690.96 L605.77 691.21 L606.22 690.66 L606.67 690.22 L607.13 691.13 L607.58 691.36 L608.03 690.92 L608.49 691.27 L608.94 691.18 L609.39 690.61 L609.85 689.89 L610.3 691.72 L610.75 691.72 L611.21 692.37 L611.66 692.56 L612.12 691.58 L612.57 690.65 L613.02 692.45 L613.48 691.93 L613.93 692.35 L614.38 692.6 L614.84 692.22 L615.29 693.61 L615.74 693.9 L616.2 693.43 L616.65 692.5 L617.1 693.13 L617.56 693.48 L618.01 695.16 L618.46 694.18 L618.92 694.44 L619.37 693.43 L619.83 693.88 L620.28 695.11 L620.73 694.82 L621.19 694.84 L621.64 693.42 L622.09 693.92 L622.55 694.63 L623 694.27 L623.45 694.77 L623.91 695.13 L624.36 695.04 L624.81 695.02 L625.27 694.23 L625.72 694.64 L626.17 694.59 L626.63 694.46 L627.08 695.73 L627.53 695.08 L627.99 695.96 L628.44 695.55 L628.89 696.22 L629.35 695.61 L629.8 694.2 L630.26 695.35 L630.71 695.87 L631.16 695.37 L631.62 695.85 L632.07 695.37 L632.52 696.06 L632.98 695.83 L633.43 697.3 L633.88 697.2 L634.34 694.95 L634.79 695.93 L635.24 696.34 L635.7 697.82 L636.15 697.45 L636.6 696.3 L637.06 696.04 L637.51 696.93 L637.97 697.18 L638.42 697.32 L638.87 696.74 L639.33 697.88 L639.78 696.73 L640.23 694.72 L640.69 695.4 L641.14 697.72 L641.59 697.46 L642.05 696.37 L642.5 698.13 L642.95 696.46 L643.41 695.74 L643.86 697.43 L644.31 697.4 L644.77 698.1 L645.22 697.04 L645.67 697.76 L646.13 697.75 L646.58 697.31 L647.04 697.51 L647.49 698.61 L647.94 698.46 L648.4 698.17 L648.85 696.75 L649.3 697.61 L649.76 698.75 L650.21 697.43 L650.66 698.34 L651.12 698.64 L651.57 698.33 L652.02 700.02 L652.48 697.79 L652.93 697.57 L653.38 698.03 L653.84 698.25 L654.29 698.48 L654.74 697.75 L655.2 699.01 L655.65 698.56 L656.11 699.6 L656.56 699.49 L657.01 699 L657.47 697.75 L657.92 699.82 L658.37 699.63 L658.83 699.97 L659.28 699.72 L659.73 699.56 L660.19 698.41 L660.64 698.23 L661.09 698.92 L661.55 698.87 L662 699.71 L662.45 700.4 L662.91 699.27 L663.36 699.33 L663.81 699.45 L664.27 701.08 L664.72 699.26 L665.18 700.16 L665.63 699.1 L666.08 700.33 L666.54 700.89 L666.99 700.59 L667.44 700.78 L667.9 700.95 L668.35 700.8 L668.8 700.3 L669.26 699.64 L669.71 700.59 L670.16 701.21 L670.62 701.37 L671.07 700.82 L671.52 700.24 L671.98 700.89 L672.43 700.13 L672.88 700.73 L673.34 700.89 L673.79 701 L674.25 701.32 L674.7 700.5 L675.15 701.32 L675.61 700.35 L676.06 700.68 L676.51 701.23 L676.97 700.92 L677.42 700.93 L677.87 700.93 L678.33 702.05 L678.78 700.5 L679.23 700.99 L679.69 700.89 L680.14 701.41 L680.59 701.54 L681.05 700.83 L681.5 701.1 L681.95 701.08 L682.41 701.08 L682.86 701.51 L683.32 701.15 L683.77 700.72 L684.22 701.46 L684.68 701.41 L685.13 701.63 L685.58 701.93 L686.04 701.86 L686.49 701 L686.94 701.41 L687.4 701.26 L687.85 700.73 L688.3 700.51 L688.76 700.93 L689.21 701.37 L689.66 702.18 L690.12 701.71 L690.57 701.98 L691.02 701.46 L691.48 701.85 L691.93 702.07 L692.38 702.37 L692.84 701.32 L693.29 702.27 L693.75 703.51 L694.2 702.97 L694.65 702.41 L695.11 700.71 L695.56 701.14 L696.01 701.8 L696.47 701.76 L696.92 702.22 L697.37 701.97 L697.83 702.23 L698.28 702.43 L698.73 702.25 L699.19 702.63 L699.64 703.28 L700.09 703.38 L700.55 701.95 L701 702.17 L701.46 703 L701.91 702.5 L702.36 702.75 L702.82 702.33 L703.27 703.61 L703.72 702.43 L704.18 702.1 L704.63 702.31 L705.08 702.11 L705.54 702.64 L705.99 702.4 L706.44 701.99 L706.9 702.55 L707.35 702.97 L707.8 702.18 L708.26 702.02 L708.71 702.31 L709.16 702.25 L709.62 702.61 L710.07 703.06 L710.53 703.69 L710.98 703.05 L711.43 703.77 L711.89 704.92 L712.34 704.21 L712.79 703.45 L713.25 702.71 L713.7 703.07 L714.15 703.54 L714.61 702.93 L715.06 703.7 L715.51 703.71 L715.97 703.04 L716.42 703.16 L716.87 702.84 L717.33 703.56 L717.78 704.49 L718.23 703.5 L718.69 703.08 L719.14 702.88 L719.6 704.39 L720.05 703.34 L720.5 703.63 L720.96 703.39 L721.41 703.58 L721.86 704.25 L722.32 703.88 L722.77 703.73 L723.22 704.61 L723.68 704.4 L724.13 703.76 L724.58 702.65 L725.04 703.7 L725.49 704.23 L725.94 703.8 L726.4 704.52 L726.85 703.02 L727.3 703.63 L727.76 702.23 L728.21 703.08 L728.66 704.86 L729.12 704.96 L729.57 704.03 L730.03 704.12 L730.48 703.96 L730.93 705.06 L731.39 704.89 L731.84 703.53 L732.29 703.37 L732.75 703.72" fill="none" stroke="#ff7f0e" stroke-width="1.6" stroke-linejoin="round" stroke-linecap="square"/>
<path d="M461.1 708.21 L461.55 708.11 L462.01 708.88 L462.46 709.48 L462.91 709.48 L463.37 708.11 L463.82 709.01 L464.27 708.79 L464.73 708.73 L465.18 709.66 L465.64 709.54 L466.09 709.42 L466.54 709.78 L467 709.55 L467.45 709.48 L467.9 710.05 L468.36 709.95 L468.81 710.46 L469.26 710.04 L469.72 709.62 L470.17 710.47 L470.62 711.33 L471.08 710.68 L471.53 710.37 L471.98 709.74 L472.44 710.47 L472.89 710.61 L473.34 710.89 L473.8 711.02 L474.25 710.61 L474.71 710.59 L475.16 710.51 L475.61 711.75 L476.07 710.68 L476.52 710.75 L476.97 710.99 L477.43 711.91 L477.88 711.1 L478.33 710.5 L478.79 712.07 L479.24 712.15 L479.69 712.59 L480.15 712.05 L480.6 711.89 L481.05 710.98 L481.51 712.55 L481.96 712.35 L482.41 713.22 L482.87 711.92 L483.32 711.67 L483.78 711.86 L484.23 712.47 L484.68 712.16 L485.14 711.69 L485.59 712.27 L486.04 712.71 L486.5 713.08 L486.95 712.04 L487.4 712.67 L487.86 712.82 L488.31 712.83 L488.76 713.61 L489.22 712.76 L489.67 712.3 L490.12 711.85 L490.58 712.24 L491.03 712.51 L491.48 712.83 L491.94 713.79 L492.39 713.8 L492.85 712.93 L493.3 713.54 L493.75 713.82 L494.21 713.99 L494.66 713.56 L495.11 712.58 L495.57 712.64 L496.02 713.71 L496.47 714.24 L496.93 713.86 L497.38 713.94 L497.83 714.22 L498.29 714.14 L498.74 714.07 L499.19 714.14 L499.65 713.91 L500.1 713.33 L500.55 713.3 L501.01 713.45 L501.46 713.65 L501.92 713.38 L502.37 714.45 L502.82 714.28 L503.28 714.15 L503.73 713.84 L504.18 714.3 L504.64 715.38 L505.09 714.88 L505.54 714.66 L506 715.37 L506.45 714.33 L506.9 715.35 L507.36 715.16 L507.81 714.6 L508.26 714.02 L508.72 714.25 L509.17 714.78 L509.62 714.24 L510.08 714.06 L510.53 714.26 L510.99 714.82 L511.44 715.78 L511.89 715.67 L512.35 715.8 L512.8 714.35 L513.25 714.44 L513.71 714.94 L514.16 714.84 L514.61 715.45 L515.07 715.06 L515.52 715.23 L515.97 714.43 L516.43 715.36 L516.88 716.13 L517.33 715.76 L517.79 715.11 L518.24 715.41 L518.69 715.16 L519.15 715.02 L519.6 715.65 L520.06 714.49 L520.51 714.91 L520.96 715.66 L521.42 715.11 L521.87 715.64 L522.32 715.73 L522.78 714.68 L523.23 714.51 L523.68 714.06 L524.14 715.87 L524.59 715.82 L525.04 715.02 L525.5 715.22 L525.95 715.43 L526.4 717.36 L526.86 716.07 L527.31 716.48 L527.76 716.24 L528.22 715.78 L528.67 716.07 L529.12 715.6 L529.58 714.11 L530.03 715.51 L530.49 716.1 L530.94 716.91 L531.39 715.94 L531.85 716.71 L532.3 715.47 L532.75 715.24 L533.21 714.88 L533.66 716.92 L534.11 715.84 L534.57 715.51 L535.02 716.15 L535.47 716.05 L535.93 716.28 L536.38 717.2 L536.83 716.47 L537.29 716.85 L537.74 716.32 L538.2 716.34 L538.65 717.39 L539.1 716.91 L539.56 716.55 L540.01 717.64 L540.46 715.94 L540.92 715.87 L541.37 717.01 L541.82 717.27 L542.28 717.19 L542.73 716.6 L543.18 715.95 L543.64 716.25 L544.09 715.16 L544.54 716.72 L545 716.03 L545.45 714.99 L545.9 716.42 L546.36 716.55 L546.81 715.98 L547.26 716.6 L547.72 716.39 L548.17 716.6 L548.63 715.83 L549.08 716.44 L549.53 716.55 L549.99 714.98 L550.44 716.98 L550.89 717.13 L551.35 716.78 L551.8 715.87 L552.25 717.6 L552.71 717.25 L553.16 717.99 L553.61 716.38 L554.07 716.99 L554.52 717.32 L554.97 716.59 L555.43 716.18 L555.88 716.58 L556.34 718.52 L556.79 717.65 L557.24 716.19 L557.7 716.09 L558.15 717.97 L558.6 717.74 L559.06 716.86 L559.51 716.49 L559.96 716.85 L560.42 717.3 L560.87 717.69 L561.32 717.1 L561.78 717.33 L562.23 717.72 L562.68 717.34 L563.14 716.46 L563.59 717.74 L564.04 716.28 L564.5 716.88 L564.95 717.64 L565.4 716.68 L565.86 718.2 L566.31 717.29 L566.77 716.38 L567.22 716.92 L567.67 716.47 L568.13 717.04 L568.58 716.18 L569.03 717.59 L569.49 717.29 L569.94 717.05 L570.39 717.15 L570.85 717.9 L571.3 716.91 L571.75 716.65 L572.21 716.51 L572.66 717.37 L573.11 717.49 L573.57 716.69 L574.02 717.78 L574.48 716.82 L574.93 716.56 L575.38 716.75 L575.84 716.8 L576.29 717.55 L576.74 718.09 L577.2 718.79 L577.65 717.27 L578.1 716.55 L578.56 717.27 L579.01 717.66 L579.46 716.85 L579.92 717.19 L580.37 717.66 L580.82 717.64 L581.28 716.63 L581.73 717.28 L582.18 717.68 L582.64 717.57 L583.09 717.85 L583.55 717.38 L584 717.52 L584.45 717.84 L584.91 717.79 L585.36 718.07 L585.81 717.94 L586.27 717.45 L586.72 717.17 L587.17 718.45 L587.63 717.53 L588.08 718.11 L588.53 718.13 L588.99 717.16 L589.44 716.69 L589.89 717.84 L590.35 717.8 L590.8 717.07 L591.25 717.81 L591.71 718.29 L592.16 718.47 L592.62 718.05 L593.07 717.49 L593.52 717.99 L593.98 717.44 L594.43 717.47 L594.88 718.22 L595.34 718.35 L595.79 718.04 L596.24 717.41 L596.7 717.71 L597.15 717.54 L597.6 717.56 L598.06 717.77 L598.51 717.67 L598.96 717.1 L599.42 716.97 L599.87 718.16 L600.32 718.27 L600.78 718.21 L601.23 717.92 L601.69 718.14 L602.14 717.29 L602.59 717.88 L603.05 717.75 L603.5 718.18 L603.95 718.24 L604.41 717.44 L604.86 717.52 L605.31 716.61 L605.77 717.7 L606.22 718.36 L606.67 718.3 L607.13 718.14 L607.58 718.86 L608.03 718.27 L608.49 718.51 L608.94 717.86 L609.39 716.73 L609.85 717.23 L610.3 717.82 L610.75 717.87 L611.21 718.46 L611.66 718.44 L612.12 718.22 L612.57 717 L613.02 718.2 L613.48 718.41 L613.93 718.54 L614.38 718.28 L614.84 718.49 L615.29 718.55 L615.74 718.6 L616.2 717.02 L616.65 717.51 L617.1 717.36 L617.56 717.82 L618.01 717.92 L618.46 717.87 L618.92 717.64 L619.37 716.75 L619.83 717.73 L620.28 717.79 L620.73 718.11 L621.19 717.59 L621.64 718.86 L622.09 718.04 L622.55 717.91 L623 718.68 L623.45 718.4 L623.91 718.5 L624.36 719.1 L624.81 719.31 L625.27 717.27 L625.72 717.11 L626.17 718.77 L626.63 717.57 L627.08 718.21 L627.53 718.59 L627.99 717.79 L628.44 718.39 L628.89 718.33 L629.35 717.55 L629.8 717.45 L630.26 716.93 L630.71 717.34 L631.16 717.89 L631.62 718.77 L632.07 718.53 L632.52 718.5 L632.98 717.35 L633.43 718.3 L633.88 717.83 L634.34 717.12 L634.79 716.83 L635.24 718.4 L635.7 718.3 L636.15 718.06 L636.6 717.98 L637.06 718.11 L637.51 717.95 L637.97 717.72 L638.42 718.92 L638.87 718.87 L639.33 717.65 L639.78 719.37 L640.23 718.61 L640.69 718.56 L641.14 718.11 L641.59 718.6 L642.05 719.58 L642.5 718.29 L642.95 718.15 L643.41 718.9 L643.86 718.3 L644.31 717.69 L644.77 718.78 L645.22 717.37 L645.67 717.42 L646.13 718.93 L646.58 718.77 L647.04 717 L647.49 718.2 L647.94 718.28 L648.4 718.38 L648.85 717.62 L649.3 718.47 L649.76 719.45 L650.21 718.6 L650.66 717.11 L651.12 718.68 L651.57 719.85 L652.02 719.14 L652.48 717.8 L652.93 717.52 L653.38 718.49 L653.84 719.13 L654.29 718.73 L654.74 719.8 L655.2 718.99 L655.65 719.03 L656.11 718.54 L656.56 718.5 L657.01 718.78 L657.47 718.6 L657.92 719.8 L658.37 719.05 L658.83 718.31 L659.28 718.05 L659.73 718.76 L660.19 718.27 L660.64 718.37 L661.09 719.18 L661.55 718.13 L662 718.28 L662.45 717.67 L662.91 718.32 L663.36 717.74 L663.81 718.69 L664.27 718.24 L664.72 718.47 L665.18 717.9 L665.63 719.51 L666.08 719.07 L666.54 719.52 L666.99 719.63 L667.44 719.23 L667.9 717.77 L668.35 718.94 L668.8 718.55 L669.26 719.77 L669.71 718.66 L670.16 717.62 L670.62 717.61 L671.07 718.15 L671.52 719.04 L671.98 718.58 L672.43 718.71 L672.88 718.93 L673.34 718.78 L673.79 719.39 L674.25 720.47 L674.7 719.7 L675.15 717.29 L675.61 718.17 L676.06 719.55 L676.51 719.36 L676.97 719.13 L677.42 719.71 L677.87 716.68 L678.33 717.6 L678.78 718.85 L679.23 719.02 L679.69 719.24 L680.14 718.93 L680.59 719.57 L681.05 718.58 L681.5 717.99 L681.95 719.07 L682.41 718.69 L682.86 718.75 L683.32 719.02 L683.77 719.33 L684.22 718.32 L684.68 718.32 L685.13 718.7 L685.58 719.18 L686.04 719.51 L686.49 719.63 L686.94 719.6 L687.4 719.48 L687.85 719.62 L688.3 719.17 L688.76 719.05 L689.21 719.63 L689.66 719.14 L690.12 718.79 L690.57 718.66 L691.02 719.22 L691.48 718.48 L691.93 718.99 L692.38 719.41 L692.84 718.68 L693.29 719.68 L693.75 718.35 L694.2 719.32 L694.65 719.21 L695.11 719.67 L695.56 719.47 L696.01 718.7 L696.47 717.85 L696.92 718.08 L697.37 718.83 L697.83 718.26 L698.28 720.22 L698.73 718.37 L699.19 718.75 L699.64 719.88 L700.09 719.84 L700.55 719.89 L701 718.98 L701.46 719.72 L701.91 719.52 L702.36 719.86 L702.82 719.84 L703.27 719.18 L703.72 719.37 L704.18 719.84 L704.63 718.95 L705.08 718.82 L705.54 719.18 L705.99 718.48 L706.44 719.18 L706.9 718.79 L707.35 718.62 L707.8 719.16 L708.26 718.48 L708.71 717.84 L709.16 718.44 L709.62 718.53 L710.07 719.61 L710.53 720.36 L710.98 719.94 L711.43 719.21 L711.89 718.58 L712.34 718.23 L712.79 719.44 L713.25 719.06 L713.7 719.26 L714.15 718.71 L714.61 717.85 L715.06 718.89 L715.51 719.39 L715.97 720.07 L716.42 719.98 L716.87 719.52 L717.33 719.48 L717.78 719.83 L718.23 719.02 L718.69 718.3 L719.14 719.54 L719.6 720.31 L720.05 718.8 L720.5 718.08 L720.96 719.23 L721.41 719.4 L721.86 718.82 L722.32 719.98 L722.77 720.16 L723.22 719.41 L723.68 720.81 L724.13 720.28 L724.58 719.21 L725.04 719.49 L725.49 719.69 L725.94 719.24 L726.4 718.76 L726.85 719.01 L727.3 720.21 L727.76 719.35 L728.21 719.99 L728.66 719.95 L729.12 721.19 L729.57 720.04 L730.03 719.72 L730.48 720.23 L730.93 719.58 L731.39 718.96 L731.84 719.49 L732.29 719.62 L732.75 719.43" fill="none" stroke="#2ca02c" stroke-width="1.6" stroke-linejoin="round" stroke-linecap="square"/>
<path d="M461.1 730.5v3.5M551.8 730.5v3.5M642.5 730.5v3.5M733.2 730.5v3.5M447.5 730.5h-3.5M447.5 622.86h-3.5M447.5 515.22h-3.5" stroke="#000" stroke-width="0.8" fill="none"/>
<path d="M447.5 698.1h-2M447.5 679.14h-2M447.5 665.69h-2M447.5 655.26h-2M447.5 646.74h-2M447.5 639.53h-2M447.5 633.29h-2M447.5 627.79h-2M447.5 590.46h-2M447.5 571.5h-2M447.5 558.05h-2M447.5 547.62h-2M447.5 539.1h-2M447.5 531.89h-2M447.5 525.65h-2M447.5 520.15h-2M447.5 482.82h-2M447.5 463.86h-2M447.5 450.41h-2M447.5 439.98h-2M447.5 431.46h-2M447.5 424.25h-2M447.5 418.01h-2M447.5 412.51h-2" stroke="#000" stroke-width="0.6" fill="none"/>
<rect x="447.5" y="412.5" width="299" height="318" fill="none" stroke="#000" stroke-width="0.8"/>
<text x="461.95" y="753.6" text-anchor="middle" style="font-size:22.0px;font-family:'DejaVu Sans','Liberation Sans',sans-serif">0</text>
<text x="552.65" y="753.6" text-anchor="middle" style="font-size:22.0px;font-family:'DejaVu Sans','Liberation Sans',sans-serif">200</text>
<text x="643.35" y="753.6" text-anchor="middle" style="font-size:22.0px;font-family:'DejaVu Sans','Liberation Sans',sans-serif">400</text>
<text x="734.05" y="753.6" text-anchor="middle" style="font-size:22.0px;font-family:'DejaVu Sans','Liberation Sans',sans-serif">600</text>
<text style="font-family:'DejaVu Sans','Liberation Sans',sans-serif"><tspan x="389.2" y="738.71" style="font-size:22.0px">10</tspan><tspan x="417.4" y="730.29" style="font-size:15.4px">−</tspan><tspan x="430.31" y="730.29" style="font-size:15.4px">3</tspan></text>
<text style="font-family:'DejaVu Sans','Liberation Sans',sans-serif"><tspan x="389.2" y="631.07" style="font-size:22.0px">10</tspan><tspan x="417.4" y="622.65" style="font-size:15.4px">−</tspan><tspan x="430.31" y="622.65" style="font-size:15.4px">2</tspan></text>
<text style="font-family:'DejaVu Sans','Liberation Sans',sans-serif"><tspan x="389.2" y="523.43" style="font-size:22.0px">10</tspan><tspan x="417.4" y="515.01" style="font-size:15.4px">−</tspan><tspan x="430.31" y="515.01" style="font-size:15.4px">1</tspan></text>
<text style="font-size:26.4px;font-family:'DejaVu Sans','Liberation Sans',sans-serif"><tspan x="520.59" y="407.1" style="font-style:oblique">d</tspan><tspan x="537.45" y="407.1" style="font-style:oblique">i</tspan><tspan x="544.99" y="407.1" style="font-style:oblique">m</tspan><tspan x="570.91" y="407.1" style="">(</tspan><tspan x="581.21" y="407.1" style="font-weight:700">z</tspan><tspan x="596.27" y="407.1" style="">)</tspan><tspan x="612.53" y="407.1" style="">=</tspan><tspan x="640.09" y="407.1" style="">4</tspan><tspan x="656.89" y="407.1" style="">0</tspan></text>
<text x="597.85" y="777.9" text-anchor="middle" style="font-size:22.0px;font-family:'DejaVu Sans','Liberation Sans',sans-serif">Epoch</text>
</g>
<g id="legend"><rect x="591.4" y="137" width="229" height="115" rx="4.4" ry="4.4" fill="#ffffff" stroke="#cccccc" stroke-width="1"/>
<path d="M600.7 156.3H644.7" stroke="#1f77b4" stroke-width="1.9" stroke-linecap="square" fill="none"/>
<path d="M600.7 192.0H644.7" stroke="#ff7f0e" stroke-width="1.9" stroke-linecap="square" fill="none"/>
<path d="M600.7 227.9H644.7" stroke="#2ca02c" stroke-width="1.9" stroke-linecap="square" fill="none"/>
<text style="font-size:22.0px;font-family:'DejaVu Sans','Liberation Sans',sans-serif"><tspan x="662.3" y="162.8" style="font-style:oblique;">Z</tspan><tspan x="677.37" y="166.41" style="font-style:oblique;font-size:15.4px;">i</tspan><tspan x="681.65" y="166.41" style="font-style:oblique;font-size:15.4px;">j</tspan><tspan x="691.32" y="162.8" style="">∼</tspan><tspan x="735.59" y="162.8" style="">(</tspan><tspan x="744.17" y="162.8" style="">0</tspan><tspan x="758.17" y="162.8" style="">,</tspan><tspan x="769.45" y="162.8" style="">1</tspan><tspan x="783.45" y="162.8" style="">)</tspan></text>
<text transform="translate(713.54 162.8) scale(1.04 1)" x="0" y="0" style="font-size:22.0px;font-family:'DejaVu Math TeX Gyre','DejaVu Serif',serif;stroke-width:0">𝒩</text>
<text style="font-size:22.0px;font-family:'DejaVu Sans','Liberation Sans',sans-serif"><tspan x="662.3" y="198.5" style="font-style:oblique;">Z</tspan><tspan x="677.37" y="202.11" style="font-style:oblique;font-size:15.4px;">i</tspan><tspan x="681.65" y="202.11" style="font-style:oblique;font-size:15.4px;">j</tspan><tspan x="690.82" y="198.5" style="">=</tspan><tspan x="713.54" y="198.5" style="">0</tspan></text>
<text style="font-size:22.0px;font-family:'DejaVu Sans','Liberation Sans',sans-serif"><tspan x="662.3" y="234.2" style="font-style:oblique;">Z</tspan><tspan x="677.37" y="237.81" style="font-style:oblique;font-size:15.4px;">i</tspan><tspan x="681.65" y="237.81" style="font-style:oblique;font-size:15.4px;">j</tspan><tspan x="690.82" y="234.2" style="">=</tspan><tspan x="713.54" y="234.2" style="">(</tspan><tspan x="722.12" y="234.2" style="font-style:oblique;">P</tspan><tspan x="735.39" y="234.2" style="font-weight:700;">m</tspan><tspan x="758.52" y="237.81" style="font-weight:700;font-size:15.4px;">i</tspan><tspan x="763.8" y="237.81" style="font-size:15.4px;">1</tspan><tspan x="776.6" y="237.81" style="font-size:15.4px;">:</tspan><tspan x="784.79" y="237.81" style="font-style:oblique;font-size:15.4px;">T</tspan><tspan x="794.79" y="234.2" style="">)</tspan><tspan x="803.59" y="237.81" style="font-style:oblique;font-size:15.4px;">j</tspan></text>
</g>
</svg>
</body></html>
